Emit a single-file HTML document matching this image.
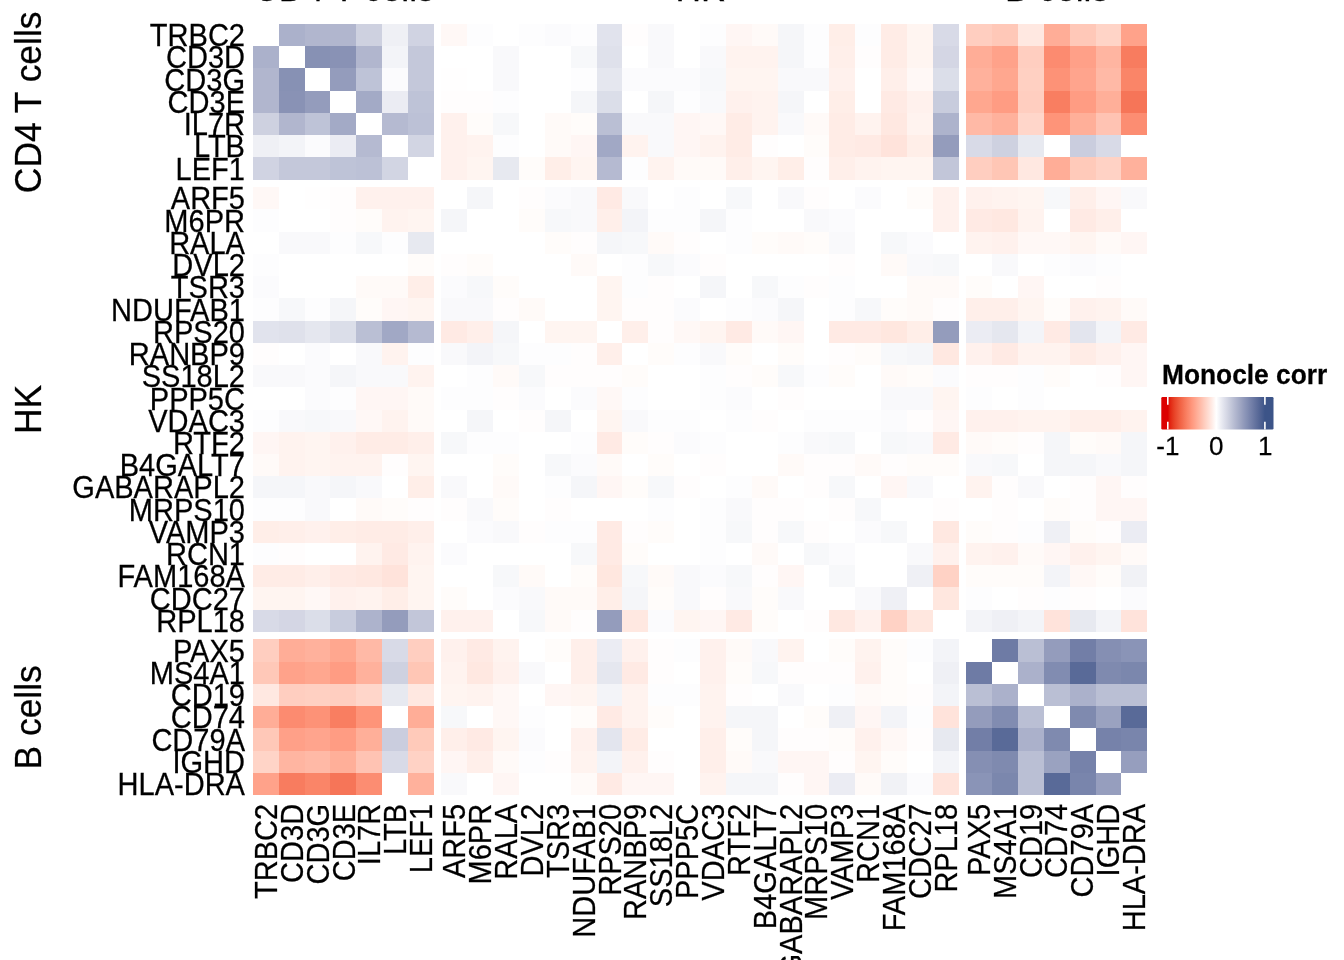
<!DOCTYPE html>
<html><head><meta charset="utf-8"><title>Monocle corr heatmap</title>
<style>
html,body{margin:0;padding:0;background:#fff;}
body{width:1344px;height:960px;overflow:hidden;position:relative;font-family:"Liberation Sans",sans-serif;color:#000;}
#hm{position:absolute;left:0;top:0;width:1344px;height:960px;}
.c{position:absolute;}
.t{position:absolute;line-height:1;white-space:nowrap;-webkit-text-stroke:0.25px #000;}
.yl{font-size:29.33px;width:300px;text-align:right;transform-origin:100% 84.65%;transform:scale(0.9900,1.0750);}
.xl{font-size:29.33px;width:300px;text-align:right;transform-origin:100% 84.65%;transform:rotate(-90deg) scale(0.9900,1.0750);}
.sl{font-size:34.67px;width:400px;text-align:center;transform-origin:50% 84.65%;transform:rotate(-90deg) scale(1.0210,1.0500);}
.st{font-size:34.67px;width:400px;text-align:center;transform-origin:50% 84.65%;transform:scale(1.0210,1.0500);}
#lt{font-size:26.20px;font-weight:bold;transform-origin:0 84.65%;transform:scale(1.0050,1.0800);}
.ll{font-size:26.00px;width:60px;text-align:center;transform-origin:50% 84.65%;transform:scale(1.0000,1.0100);}
#bar{position:absolute;left:1155px;top:390px;}
</style></head><body>
<div id="hm"><div class="c" style="left:279px;top:24px;width:26px;height:22px;background:#abb1cb"></div><div class="c" style="left:305px;top:24px;width:25px;height:22px;background:#b1b6ce"></div><div class="c" style="left:330px;top:24px;width:26px;height:22px;background:#b1b6ce"></div><div class="c" style="left:356px;top:24px;width:26px;height:22px;background:#ced1e0"></div><div class="c" style="left:382px;top:24px;width:26px;height:22px;background:#eff0f5"></div><div class="c" style="left:408px;top:24px;width:26px;height:22px;background:#d0d3e2"></div><div class="c" style="left:441px;top:24px;width:26px;height:22px;background:#fff8f6"></div><div class="c" style="left:467px;top:24px;width:26px;height:22px;background:#fdfdfe"></div><div class="c" style="left:519px;top:24px;width:26px;height:22px;background:#fdfdfe"></div><div class="c" style="left:545px;top:24px;width:26px;height:22px;background:#fbfbfd"></div><div class="c" style="left:571px;top:24px;width:26px;height:22px;background:#fdfdfe"></div><div class="c" style="left:597px;top:24px;width:25px;height:22px;background:#e1e3ed"></div><div class="c" style="left:622px;top:24px;width:26px;height:22px;background:#fffdfd"></div><div class="c" style="left:648px;top:24px;width:26px;height:22px;background:#f9f9fb"></div><div class="c" style="left:700px;top:24px;width:26px;height:22px;background:#fdfdfe"></div><div class="c" style="left:726px;top:24px;width:26px;height:22px;background:#fff6f4"></div><div class="c" style="left:752px;top:24px;width:26px;height:22px;background:#fffaf8"></div><div class="c" style="left:778px;top:24px;width:26px;height:22px;background:#f5f6f9"></div><div class="c" style="left:804px;top:24px;width:25px;height:22px;background:#fdfdfe"></div><div class="c" style="left:829px;top:24px;width:26px;height:22px;background:#ffeee8"></div><div class="c" style="left:855px;top:24px;width:26px;height:22px;background:#fdfdfe"></div><div class="c" style="left:881px;top:24px;width:26px;height:22px;background:#ffece6"></div><div class="c" style="left:907px;top:24px;width:26px;height:22px;background:#fff5f1"></div><div class="c" style="left:933px;top:24px;width:26px;height:22px;background:#d8dae7"></div><div class="c" style="left:966px;top:24px;width:26px;height:22px;background:#ffcec0"></div><div class="c" style="left:992px;top:24px;width:26px;height:22px;background:#ffc8b8"></div><div class="c" style="left:1018px;top:24px;width:26px;height:22px;background:#ffe8e1"></div><div class="c" style="left:1044px;top:24px;width:26px;height:22px;background:#ffad97"></div><div class="c" style="left:1070px;top:24px;width:26px;height:22px;background:#ffc8b8"></div><div class="c" style="left:1096px;top:24px;width:25px;height:22px;background:#ffd4c7"></div><div class="c" style="left:1121px;top:24px;width:26px;height:22px;background:#ffa28a"></div><div class="c" style="left:253px;top:46px;width:26px;height:22px;background:#abb1cb"></div><div class="c" style="left:305px;top:46px;width:25px;height:22px;background:#8791b4"></div><div class="c" style="left:330px;top:46px;width:26px;height:22px;background:#8992b5"></div><div class="c" style="left:356px;top:46px;width:26px;height:22px;background:#b1b6ce"></div><div class="c" style="left:382px;top:46px;width:26px;height:22px;background:#f3f4f8"></div><div class="c" style="left:408px;top:46px;width:26px;height:22px;background:#c4c8da"></div><div class="c" style="left:493px;top:46px;width:26px;height:22px;background:#f9f9fb"></div><div class="c" style="left:571px;top:46px;width:26px;height:22px;background:#f7f8fa"></div><div class="c" style="left:597px;top:46px;width:25px;height:22px;background:#dfe1eb"></div><div class="c" style="left:648px;top:46px;width:26px;height:22px;background:#f9f9fb"></div><div class="c" style="left:700px;top:46px;width:26px;height:22px;background:#f9f9fb"></div><div class="c" style="left:726px;top:46px;width:26px;height:22px;background:#fff3ef"></div><div class="c" style="left:752px;top:46px;width:26px;height:22px;background:#fff3ef"></div><div class="c" style="left:778px;top:46px;width:26px;height:22px;background:#f5f6f9"></div><div class="c" style="left:804px;top:46px;width:25px;height:22px;background:#fdfdfe"></div><div class="c" style="left:829px;top:46px;width:26px;height:22px;background:#ffefea"></div><div class="c" style="left:855px;top:46px;width:26px;height:22px;background:#fffdfd"></div><div class="c" style="left:881px;top:46px;width:26px;height:22px;background:#ffece6"></div><div class="c" style="left:907px;top:46px;width:26px;height:22px;background:#fff5f1"></div><div class="c" style="left:933px;top:46px;width:26px;height:22px;background:#d4d6e4"></div><div class="c" style="left:966px;top:46px;width:26px;height:22px;background:#ffad97"></div><div class="c" style="left:992px;top:46px;width:26px;height:22px;background:#ffa28a"></div><div class="c" style="left:1018px;top:46px;width:26px;height:22px;background:#ffcec0"></div><div class="c" style="left:1044px;top:46px;width:26px;height:22px;background:#fc8b70"></div><div class="c" style="left:1070px;top:46px;width:26px;height:22px;background:#ffa088"></div><div class="c" style="left:1096px;top:46px;width:25px;height:22px;background:#ffb5a1"></div><div class="c" style="left:1121px;top:46px;width:26px;height:22px;background:#f87c5f"></div><div class="c" style="left:253px;top:68px;width:26px;height:23px;background:#b1b6ce"></div><div class="c" style="left:279px;top:68px;width:26px;height:23px;background:#8791b4"></div><div class="c" style="left:330px;top:68px;width:26px;height:23px;background:#949cbc"></div><div class="c" style="left:356px;top:68px;width:26px;height:23px;background:#bec3d7"></div><div class="c" style="left:382px;top:68px;width:26px;height:23px;background:#fbfbfd"></div><div class="c" style="left:408px;top:68px;width:26px;height:23px;background:#c4c8da"></div><div class="c" style="left:441px;top:68px;width:26px;height:23px;background:#fffefe"></div><div class="c" style="left:493px;top:68px;width:26px;height:23px;background:#f9f9fb"></div><div class="c" style="left:571px;top:68px;width:26px;height:23px;background:#fdfdfe"></div><div class="c" style="left:597px;top:68px;width:25px;height:23px;background:#e5e7ef"></div><div class="c" style="left:622px;top:68px;width:26px;height:23px;background:#fbfbfd"></div><div class="c" style="left:648px;top:68px;width:26px;height:23px;background:#fbfbfd"></div><div class="c" style="left:674px;top:68px;width:26px;height:23px;background:#fbfbfd"></div><div class="c" style="left:700px;top:68px;width:26px;height:23px;background:#f7f8fa"></div><div class="c" style="left:726px;top:68px;width:26px;height:23px;background:#fff5f1"></div><div class="c" style="left:752px;top:68px;width:26px;height:23px;background:#fff5f1"></div><div class="c" style="left:778px;top:68px;width:26px;height:23px;background:#f9f9fb"></div><div class="c" style="left:804px;top:68px;width:25px;height:23px;background:#f9f9fb"></div><div class="c" style="left:829px;top:68px;width:26px;height:23px;background:#fff1ed"></div><div class="c" style="left:881px;top:68px;width:26px;height:23px;background:#ffefea"></div><div class="c" style="left:907px;top:68px;width:26px;height:23px;background:#fff8f6"></div><div class="c" style="left:933px;top:68px;width:26px;height:23px;background:#dbdee9"></div><div class="c" style="left:966px;top:68px;width:26px;height:23px;background:#ffb19c"></div><div class="c" style="left:992px;top:68px;width:26px;height:23px;background:#ffa78f"></div><div class="c" style="left:1018px;top:68px;width:26px;height:23px;background:#ffd0c2"></div><div class="c" style="left:1044px;top:68px;width:26px;height:23px;background:#fd9277"></div><div class="c" style="left:1070px;top:68px;width:26px;height:23px;background:#ffa48d"></div><div class="c" style="left:1096px;top:68px;width:25px;height:23px;background:#ffb9a6"></div><div class="c" style="left:1121px;top:68px;width:26px;height:23px;background:#fa8568"></div><div class="c" style="left:253px;top:91px;width:26px;height:22px;background:#b1b6ce"></div><div class="c" style="left:279px;top:91px;width:26px;height:22px;background:#8992b5"></div><div class="c" style="left:305px;top:91px;width:25px;height:22px;background:#949cbc"></div><div class="c" style="left:356px;top:91px;width:26px;height:22px;background:#a3aac6"></div><div class="c" style="left:382px;top:91px;width:26px;height:22px;background:#ebecf3"></div><div class="c" style="left:408px;top:91px;width:26px;height:22px;background:#bec3d7"></div><div class="c" style="left:441px;top:91px;width:26px;height:22px;background:#fffdfd"></div><div class="c" style="left:467px;top:91px;width:26px;height:22px;background:#fffdfd"></div><div class="c" style="left:493px;top:91px;width:26px;height:22px;background:#fdfdfe"></div><div class="c" style="left:571px;top:91px;width:26px;height:22px;background:#f5f6f9"></div><div class="c" style="left:597px;top:91px;width:25px;height:22px;background:#dbdee9"></div><div class="c" style="left:648px;top:91px;width:26px;height:22px;background:#f5f6f9"></div><div class="c" style="left:674px;top:91px;width:26px;height:22px;background:#fdfdfe"></div><div class="c" style="left:700px;top:91px;width:26px;height:22px;background:#f9f9fb"></div><div class="c" style="left:726px;top:91px;width:26px;height:22px;background:#fff1ed"></div><div class="c" style="left:752px;top:91px;width:26px;height:22px;background:#fff3ef"></div><div class="c" style="left:778px;top:91px;width:26px;height:22px;background:#f5f6f9"></div><div class="c" style="left:829px;top:91px;width:26px;height:22px;background:#ffeee8"></div><div class="c" style="left:881px;top:91px;width:26px;height:22px;background:#ffeae4"></div><div class="c" style="left:907px;top:91px;width:26px;height:22px;background:#fff1ed"></div><div class="c" style="left:933px;top:91px;width:26px;height:22px;background:#c8ccdd"></div><div class="c" style="left:966px;top:91px;width:26px;height:22px;background:#ffa78f"></div><div class="c" style="left:992px;top:91px;width:26px;height:22px;background:#ff9c83"></div><div class="c" style="left:1018px;top:91px;width:26px;height:22px;background:#ffcec0"></div><div class="c" style="left:1044px;top:91px;width:26px;height:22px;background:#f97e61"></div><div class="c" style="left:1070px;top:91px;width:26px;height:22px;background:#ff9c83"></div><div class="c" style="left:1096px;top:91px;width:25px;height:22px;background:#ffaf99"></div><div class="c" style="left:1121px;top:91px;width:26px;height:22px;background:#f67558"></div><div class="c" style="left:253px;top:113px;width:26px;height:22px;background:#ced1e0"></div><div class="c" style="left:279px;top:113px;width:26px;height:22px;background:#b1b6ce"></div><div class="c" style="left:305px;top:113px;width:25px;height:22px;background:#bec3d7"></div><div class="c" style="left:330px;top:113px;width:26px;height:22px;background:#a3aac6"></div><div class="c" style="left:382px;top:113px;width:26px;height:22px;background:#b5bad1"></div><div class="c" style="left:408px;top:113px;width:26px;height:22px;background:#bcc1d6"></div><div class="c" style="left:441px;top:113px;width:26px;height:22px;background:#fff1ed"></div><div class="c" style="left:467px;top:113px;width:26px;height:22px;background:#fffcfa"></div><div class="c" style="left:493px;top:113px;width:26px;height:22px;background:#f7f8fa"></div><div class="c" style="left:545px;top:113px;width:26px;height:22px;background:#fffaf8"></div><div class="c" style="left:571px;top:113px;width:26px;height:22px;background:#fffcfa"></div><div class="c" style="left:597px;top:113px;width:25px;height:22px;background:#babfd4"></div><div class="c" style="left:622px;top:113px;width:26px;height:22px;background:#f9f9fb"></div><div class="c" style="left:648px;top:113px;width:26px;height:22px;background:#f9f9fb"></div><div class="c" style="left:674px;top:113px;width:26px;height:22px;background:#fff6f4"></div><div class="c" style="left:700px;top:113px;width:26px;height:22px;background:#fff8f6"></div><div class="c" style="left:726px;top:113px;width:26px;height:22px;background:#ffece6"></div><div class="c" style="left:752px;top:113px;width:26px;height:22px;background:#fff3ef"></div><div class="c" style="left:778px;top:113px;width:26px;height:22px;background:#f9f9fb"></div><div class="c" style="left:804px;top:113px;width:25px;height:22px;background:#fffaf8"></div><div class="c" style="left:829px;top:113px;width:26px;height:22px;background:#ffece6"></div><div class="c" style="left:855px;top:113px;width:26px;height:22px;background:#fff3ef"></div><div class="c" style="left:881px;top:113px;width:26px;height:22px;background:#ffe8e1"></div><div class="c" style="left:907px;top:113px;width:26px;height:22px;background:#fff3ef"></div><div class="c" style="left:933px;top:113px;width:26px;height:22px;background:#adb3cc"></div><div class="c" style="left:966px;top:113px;width:26px;height:22px;background:#ffb9a6"></div><div class="c" style="left:992px;top:113px;width:26px;height:22px;background:#ffb19c"></div><div class="c" style="left:1018px;top:113px;width:26px;height:22px;background:#ffd6ca"></div><div class="c" style="left:1044px;top:113px;width:26px;height:22px;background:#fe9479"></div><div class="c" style="left:1070px;top:113px;width:26px;height:22px;background:#ffaf99"></div><div class="c" style="left:1096px;top:113px;width:25px;height:22px;background:#ffc3b3"></div><div class="c" style="left:1121px;top:113px;width:26px;height:22px;background:#fc8d72"></div><div class="c" style="left:253px;top:135px;width:26px;height:22px;background:#eff0f5"></div><div class="c" style="left:279px;top:135px;width:26px;height:22px;background:#f3f4f8"></div><div class="c" style="left:305px;top:135px;width:25px;height:22px;background:#fbfbfd"></div><div class="c" style="left:330px;top:135px;width:26px;height:22px;background:#ebecf3"></div><div class="c" style="left:356px;top:135px;width:26px;height:22px;background:#b5bad1"></div><div class="c" style="left:408px;top:135px;width:26px;height:22px;background:#d2d5e3"></div><div class="c" style="left:441px;top:135px;width:26px;height:22px;background:#fff1ed"></div><div class="c" style="left:467px;top:135px;width:26px;height:22px;background:#fff3ef"></div><div class="c" style="left:493px;top:135px;width:26px;height:22px;background:#fdfdfe"></div><div class="c" style="left:545px;top:135px;width:26px;height:22px;background:#fffaf8"></div><div class="c" style="left:571px;top:135px;width:26px;height:22px;background:#fff6f4"></div><div class="c" style="left:597px;top:135px;width:25px;height:22px;background:#a1a8c5"></div><div class="c" style="left:622px;top:135px;width:26px;height:22px;background:#fff3ef"></div><div class="c" style="left:648px;top:135px;width:26px;height:22px;background:#f9f9fb"></div><div class="c" style="left:674px;top:135px;width:26px;height:22px;background:#fff6f4"></div><div class="c" style="left:700px;top:135px;width:26px;height:22px;background:#fff3ef"></div><div class="c" style="left:726px;top:135px;width:26px;height:22px;background:#ffece6"></div><div class="c" style="left:752px;top:135px;width:26px;height:22px;background:#fffdfd"></div><div class="c" style="left:804px;top:135px;width:25px;height:22px;background:#fffcfa"></div><div class="c" style="left:829px;top:135px;width:26px;height:22px;background:#ffece6"></div><div class="c" style="left:855px;top:135px;width:26px;height:22px;background:#ffeae4"></div><div class="c" style="left:881px;top:135px;width:26px;height:22px;background:#ffe3db"></div><div class="c" style="left:907px;top:135px;width:26px;height:22px;background:#ffeee8"></div><div class="c" style="left:933px;top:135px;width:26px;height:22px;background:#949cbc"></div><div class="c" style="left:966px;top:135px;width:26px;height:22px;background:#d8dae7"></div><div class="c" style="left:992px;top:135px;width:26px;height:22px;background:#ced1e0"></div><div class="c" style="left:1018px;top:135px;width:26px;height:22px;background:#e7e9f0"></div><div class="c" style="left:1070px;top:135px;width:26px;height:22px;background:#cacdde"></div><div class="c" style="left:1096px;top:135px;width:25px;height:22px;background:#d8dae7"></div><div class="c" style="left:253px;top:157px;width:26px;height:23px;background:#d0d3e2"></div><div class="c" style="left:279px;top:157px;width:26px;height:23px;background:#c4c8da"></div><div class="c" style="left:305px;top:157px;width:25px;height:23px;background:#c4c8da"></div><div class="c" style="left:330px;top:157px;width:26px;height:23px;background:#bec3d7"></div><div class="c" style="left:356px;top:157px;width:26px;height:23px;background:#bcc1d6"></div><div class="c" style="left:382px;top:157px;width:26px;height:23px;background:#d2d5e3"></div><div class="c" style="left:441px;top:157px;width:26px;height:23px;background:#fff1ed"></div><div class="c" style="left:467px;top:157px;width:26px;height:23px;background:#fff5f1"></div><div class="c" style="left:493px;top:157px;width:26px;height:23px;background:#e7e9f0"></div><div class="c" style="left:519px;top:157px;width:26px;height:23px;background:#fffcfa"></div><div class="c" style="left:545px;top:157px;width:26px;height:23px;background:#ffeee8"></div><div class="c" style="left:571px;top:157px;width:26px;height:23px;background:#fff5f1"></div><div class="c" style="left:597px;top:157px;width:25px;height:23px;background:#b5bad1"></div><div class="c" style="left:622px;top:157px;width:26px;height:23px;background:#fdfdfe"></div><div class="c" style="left:648px;top:157px;width:26px;height:23px;background:#fff3ef"></div><div class="c" style="left:674px;top:157px;width:26px;height:23px;background:#fffaf8"></div><div class="c" style="left:700px;top:157px;width:26px;height:23px;background:#fffaf8"></div><div class="c" style="left:726px;top:157px;width:26px;height:23px;background:#ffefea"></div><div class="c" style="left:752px;top:157px;width:26px;height:23px;background:#fff5f1"></div><div class="c" style="left:778px;top:157px;width:26px;height:23px;background:#ffeee8"></div><div class="c" style="left:804px;top:157px;width:25px;height:23px;background:#fffdfd"></div><div class="c" style="left:829px;top:157px;width:26px;height:23px;background:#ffefea"></div><div class="c" style="left:855px;top:157px;width:26px;height:23px;background:#fff3ef"></div><div class="c" style="left:881px;top:157px;width:26px;height:23px;background:#fff5f1"></div><div class="c" style="left:907px;top:157px;width:26px;height:23px;background:#fff5f1"></div><div class="c" style="left:933px;top:157px;width:26px;height:23px;background:#c2c6d9"></div><div class="c" style="left:966px;top:157px;width:26px;height:23px;background:#ffcec0"></div><div class="c" style="left:992px;top:157px;width:26px;height:23px;background:#ffc6b5"></div><div class="c" style="left:1018px;top:157px;width:26px;height:23px;background:#ffe8e1"></div><div class="c" style="left:1044px;top:157px;width:26px;height:23px;background:#ffad97"></div><div class="c" style="left:1070px;top:157px;width:26px;height:23px;background:#ffcaba"></div><div class="c" style="left:1096px;top:157px;width:25px;height:23px;background:#ffd2c5"></div><div class="c" style="left:1121px;top:157px;width:26px;height:23px;background:#ffb19c"></div><div class="c" style="left:253px;top:187px;width:26px;height:22px;background:#fff8f6"></div><div class="c" style="left:305px;top:187px;width:25px;height:22px;background:#fffefe"></div><div class="c" style="left:330px;top:187px;width:26px;height:22px;background:#fffdfd"></div><div class="c" style="left:356px;top:187px;width:26px;height:22px;background:#fff1ed"></div><div class="c" style="left:382px;top:187px;width:26px;height:22px;background:#fff1ed"></div><div class="c" style="left:408px;top:187px;width:26px;height:22px;background:#fff1ed"></div><div class="c" style="left:467px;top:187px;width:26px;height:22px;background:#f5f6f9"></div><div class="c" style="left:519px;top:187px;width:26px;height:22px;background:#fffdfd"></div><div class="c" style="left:545px;top:187px;width:26px;height:22px;background:#fbfbfd"></div><div class="c" style="left:571px;top:187px;width:26px;height:22px;background:#f9f9fb"></div><div class="c" style="left:597px;top:187px;width:25px;height:22px;background:#ffeae4"></div><div class="c" style="left:622px;top:187px;width:26px;height:22px;background:#f9f9fb"></div><div class="c" style="left:674px;top:187px;width:26px;height:22px;background:#fdfdfe"></div><div class="c" style="left:726px;top:187px;width:26px;height:22px;background:#f7f8fa"></div><div class="c" style="left:778px;top:187px;width:26px;height:22px;background:#f9f9fb"></div><div class="c" style="left:804px;top:187px;width:25px;height:22px;background:#fffdfd"></div><div class="c" style="left:855px;top:187px;width:26px;height:22px;background:#fbfbfd"></div><div class="c" style="left:907px;top:187px;width:26px;height:22px;background:#fffcfa"></div><div class="c" style="left:933px;top:187px;width:26px;height:22px;background:#fff1ed"></div><div class="c" style="left:966px;top:187px;width:26px;height:22px;background:#fff1ed"></div><div class="c" style="left:992px;top:187px;width:26px;height:22px;background:#fff3ef"></div><div class="c" style="left:1018px;top:187px;width:26px;height:22px;background:#fff5f1"></div><div class="c" style="left:1044px;top:187px;width:26px;height:22px;background:#f7f8fa"></div><div class="c" style="left:1070px;top:187px;width:26px;height:22px;background:#ffefea"></div><div class="c" style="left:1096px;top:187px;width:25px;height:22px;background:#fff6f4"></div><div class="c" style="left:1121px;top:187px;width:26px;height:22px;background:#f9f9fb"></div><div class="c" style="left:253px;top:209px;width:26px;height:23px;background:#fdfdfe"></div><div class="c" style="left:330px;top:209px;width:26px;height:23px;background:#fffdfd"></div><div class="c" style="left:356px;top:209px;width:26px;height:23px;background:#fffcfa"></div><div class="c" style="left:382px;top:209px;width:26px;height:23px;background:#fff3ef"></div><div class="c" style="left:408px;top:209px;width:26px;height:23px;background:#fff5f1"></div><div class="c" style="left:441px;top:209px;width:26px;height:23px;background:#f5f6f9"></div><div class="c" style="left:519px;top:209px;width:26px;height:23px;background:#fffcfa"></div><div class="c" style="left:545px;top:209px;width:26px;height:23px;background:#f7f8fa"></div><div class="c" style="left:571px;top:209px;width:26px;height:23px;background:#f9f9fb"></div><div class="c" style="left:597px;top:209px;width:25px;height:23px;background:#ffefea"></div><div class="c" style="left:622px;top:209px;width:26px;height:23px;background:#f3f4f8"></div><div class="c" style="left:648px;top:209px;width:26px;height:23px;background:#fdfdfe"></div><div class="c" style="left:674px;top:209px;width:26px;height:23px;background:#fdfdfe"></div><div class="c" style="left:700px;top:209px;width:26px;height:23px;background:#f5f6f9"></div><div class="c" style="left:726px;top:209px;width:26px;height:23px;background:#fdfdfe"></div><div class="c" style="left:804px;top:209px;width:25px;height:23px;background:#f9f9fb"></div><div class="c" style="left:829px;top:209px;width:26px;height:23px;background:#fbfbfd"></div><div class="c" style="left:933px;top:209px;width:26px;height:23px;background:#fff1ed"></div><div class="c" style="left:966px;top:209px;width:26px;height:23px;background:#ffeae4"></div><div class="c" style="left:992px;top:209px;width:26px;height:23px;background:#ffe8e1"></div><div class="c" style="left:1018px;top:209px;width:26px;height:23px;background:#fff3ef"></div><div class="c" style="left:1070px;top:209px;width:26px;height:23px;background:#ffeae4"></div><div class="c" style="left:1096px;top:209px;width:25px;height:23px;background:#ffefea"></div><div class="c" style="left:279px;top:232px;width:26px;height:22px;background:#f9f9fb"></div><div class="c" style="left:305px;top:232px;width:25px;height:22px;background:#f9f9fb"></div><div class="c" style="left:330px;top:232px;width:26px;height:22px;background:#fdfdfe"></div><div class="c" style="left:356px;top:232px;width:26px;height:22px;background:#f7f8fa"></div><div class="c" style="left:382px;top:232px;width:26px;height:22px;background:#fdfdfe"></div><div class="c" style="left:408px;top:232px;width:26px;height:22px;background:#e7e9f0"></div><div class="c" style="left:545px;top:232px;width:26px;height:22px;background:#fffcfa"></div><div class="c" style="left:571px;top:232px;width:26px;height:22px;background:#fffdfd"></div><div class="c" style="left:597px;top:232px;width:25px;height:22px;background:#f5f6f9"></div><div class="c" style="left:622px;top:232px;width:26px;height:22px;background:#f7f8fa"></div><div class="c" style="left:648px;top:232px;width:26px;height:22px;background:#fffaf8"></div><div class="c" style="left:674px;top:232px;width:26px;height:22px;background:#fffdfd"></div><div class="c" style="left:726px;top:232px;width:26px;height:22px;background:#fdfdfe"></div><div class="c" style="left:752px;top:232px;width:26px;height:22px;background:#fffcfa"></div><div class="c" style="left:778px;top:232px;width:26px;height:22px;background:#fffaf8"></div><div class="c" style="left:804px;top:232px;width:25px;height:22px;background:#fffcfa"></div><div class="c" style="left:829px;top:232px;width:26px;height:22px;background:#f9f9fb"></div><div class="c" style="left:881px;top:232px;width:26px;height:22px;background:#f7f8fa"></div><div class="c" style="left:907px;top:232px;width:26px;height:22px;background:#fbfbfd"></div><div class="c" style="left:966px;top:232px;width:26px;height:22px;background:#fff3ef"></div><div class="c" style="left:992px;top:232px;width:26px;height:22px;background:#fff1ed"></div><div class="c" style="left:1018px;top:232px;width:26px;height:22px;background:#fff8f6"></div><div class="c" style="left:1044px;top:232px;width:26px;height:22px;background:#fff8f6"></div><div class="c" style="left:1070px;top:232px;width:26px;height:22px;background:#fff5f1"></div><div class="c" style="left:1096px;top:232px;width:25px;height:22px;background:#fffaf8"></div><div class="c" style="left:1121px;top:232px;width:26px;height:22px;background:#fff6f4"></div><div class="c" style="left:253px;top:254px;width:26px;height:22px;background:#fdfdfe"></div><div class="c" style="left:408px;top:254px;width:26px;height:22px;background:#fffcfa"></div><div class="c" style="left:441px;top:254px;width:26px;height:22px;background:#fffdfd"></div><div class="c" style="left:467px;top:254px;width:26px;height:22px;background:#fffcfa"></div><div class="c" style="left:571px;top:254px;width:26px;height:22px;background:#fffaf8"></div><div class="c" style="left:622px;top:254px;width:26px;height:22px;background:#fdfdfe"></div><div class="c" style="left:648px;top:254px;width:26px;height:22px;background:#f7f8fa"></div><div class="c" style="left:674px;top:254px;width:26px;height:22px;background:#fbfbfd"></div><div class="c" style="left:700px;top:254px;width:26px;height:22px;background:#fffdfd"></div><div class="c" style="left:829px;top:254px;width:26px;height:22px;background:#fffdfd"></div><div class="c" style="left:881px;top:254px;width:26px;height:22px;background:#fffaf8"></div><div class="c" style="left:907px;top:254px;width:26px;height:22px;background:#f9f9fb"></div><div class="c" style="left:933px;top:254px;width:26px;height:22px;background:#f7f8fa"></div><div class="c" style="left:992px;top:254px;width:26px;height:22px;background:#f9f9fb"></div><div class="c" style="left:1044px;top:254px;width:26px;height:22px;background:#fdfdfe"></div><div class="c" style="left:1070px;top:254px;width:26px;height:22px;background:#fbfbfd"></div><div class="c" style="left:1096px;top:254px;width:25px;height:22px;background:#fdfdfe"></div><div class="c" style="left:253px;top:276px;width:26px;height:22px;background:#fbfbfd"></div><div class="c" style="left:356px;top:276px;width:26px;height:22px;background:#fffaf8"></div><div class="c" style="left:382px;top:276px;width:26px;height:22px;background:#fffaf8"></div><div class="c" style="left:408px;top:276px;width:26px;height:22px;background:#ffeee8"></div><div class="c" style="left:441px;top:276px;width:26px;height:22px;background:#fbfbfd"></div><div class="c" style="left:467px;top:276px;width:26px;height:22px;background:#f7f8fa"></div><div class="c" style="left:493px;top:276px;width:26px;height:22px;background:#fffcfa"></div><div class="c" style="left:597px;top:276px;width:25px;height:22px;background:#fff5f1"></div><div class="c" style="left:622px;top:276px;width:26px;height:22px;background:#fdfdfe"></div><div class="c" style="left:648px;top:276px;width:26px;height:22px;background:#fffdfd"></div><div class="c" style="left:700px;top:276px;width:26px;height:22px;background:#f5f6f9"></div><div class="c" style="left:752px;top:276px;width:26px;height:22px;background:#f7f8fa"></div><div class="c" style="left:778px;top:276px;width:26px;height:22px;background:#fdfdfe"></div><div class="c" style="left:804px;top:276px;width:25px;height:22px;background:#fffdfd"></div><div class="c" style="left:829px;top:276px;width:26px;height:22px;background:#fdfdfe"></div><div class="c" style="left:907px;top:276px;width:26px;height:22px;background:#fffaf8"></div><div class="c" style="left:933px;top:276px;width:26px;height:22px;background:#fffaf8"></div><div class="c" style="left:966px;top:276px;width:26px;height:22px;background:#fffcfa"></div><div class="c" style="left:1018px;top:276px;width:26px;height:22px;background:#fff6f4"></div><div class="c" style="left:1096px;top:276px;width:25px;height:22px;background:#fffdfd"></div><div class="c" style="left:253px;top:298px;width:26px;height:23px;background:#fdfdfe"></div><div class="c" style="left:279px;top:298px;width:26px;height:23px;background:#f7f8fa"></div><div class="c" style="left:305px;top:298px;width:25px;height:23px;background:#fdfdfe"></div><div class="c" style="left:330px;top:298px;width:26px;height:23px;background:#f5f6f9"></div><div class="c" style="left:356px;top:298px;width:26px;height:23px;background:#fffcfa"></div><div class="c" style="left:382px;top:298px;width:26px;height:23px;background:#fff6f4"></div><div class="c" style="left:408px;top:298px;width:26px;height:23px;background:#fff5f1"></div><div class="c" style="left:441px;top:298px;width:26px;height:23px;background:#f9f9fb"></div><div class="c" style="left:467px;top:298px;width:26px;height:23px;background:#f9f9fb"></div><div class="c" style="left:493px;top:298px;width:26px;height:23px;background:#fffdfd"></div><div class="c" style="left:519px;top:298px;width:26px;height:23px;background:#fffaf8"></div><div class="c" style="left:597px;top:298px;width:25px;height:23px;background:#fff5f1"></div><div class="c" style="left:622px;top:298px;width:26px;height:23px;background:#fffdfd"></div><div class="c" style="left:648px;top:298px;width:26px;height:23px;background:#fffdfd"></div><div class="c" style="left:674px;top:298px;width:26px;height:23px;background:#fbfbfd"></div><div class="c" style="left:726px;top:298px;width:26px;height:23px;background:#fdfdfe"></div><div class="c" style="left:752px;top:298px;width:26px;height:23px;background:#fbfbfd"></div><div class="c" style="left:778px;top:298px;width:26px;height:23px;background:#f5f6f9"></div><div class="c" style="left:829px;top:298px;width:26px;height:23px;background:#fdfdfe"></div><div class="c" style="left:855px;top:298px;width:26px;height:23px;background:#f7f8fa"></div><div class="c" style="left:881px;top:298px;width:26px;height:23px;background:#fffcfa"></div><div class="c" style="left:907px;top:298px;width:26px;height:23px;background:#fffaf8"></div><div class="c" style="left:933px;top:298px;width:26px;height:23px;background:#fffdfd"></div><div class="c" style="left:966px;top:298px;width:26px;height:23px;background:#ffefea"></div><div class="c" style="left:992px;top:298px;width:26px;height:23px;background:#ffefea"></div><div class="c" style="left:1018px;top:298px;width:26px;height:23px;background:#fff5f1"></div><div class="c" style="left:1044px;top:298px;width:26px;height:23px;background:#fffcfa"></div><div class="c" style="left:1070px;top:298px;width:26px;height:23px;background:#fff1ed"></div><div class="c" style="left:1096px;top:298px;width:25px;height:23px;background:#fff3ef"></div><div class="c" style="left:1121px;top:298px;width:26px;height:23px;background:#fffaf8"></div><div class="c" style="left:253px;top:321px;width:26px;height:22px;background:#e1e3ed"></div><div class="c" style="left:279px;top:321px;width:26px;height:22px;background:#dfe1eb"></div><div class="c" style="left:305px;top:321px;width:25px;height:22px;background:#e5e7ef"></div><div class="c" style="left:330px;top:321px;width:26px;height:22px;background:#dbdee9"></div><div class="c" style="left:356px;top:321px;width:26px;height:22px;background:#babfd4"></div><div class="c" style="left:382px;top:321px;width:26px;height:22px;background:#a1a8c5"></div><div class="c" style="left:408px;top:321px;width:26px;height:22px;background:#b5bad1"></div><div class="c" style="left:441px;top:321px;width:26px;height:22px;background:#ffeae4"></div><div class="c" style="left:467px;top:321px;width:26px;height:22px;background:#ffefea"></div><div class="c" style="left:493px;top:321px;width:26px;height:22px;background:#f5f6f9"></div><div class="c" style="left:545px;top:321px;width:26px;height:22px;background:#fff5f1"></div><div class="c" style="left:571px;top:321px;width:26px;height:22px;background:#fff5f1"></div><div class="c" style="left:622px;top:321px;width:26px;height:22px;background:#ffefea"></div><div class="c" style="left:648px;top:321px;width:26px;height:22px;background:#fffdfd"></div><div class="c" style="left:674px;top:321px;width:26px;height:22px;background:#fff8f6"></div><div class="c" style="left:700px;top:321px;width:26px;height:22px;background:#fff5f1"></div><div class="c" style="left:726px;top:321px;width:26px;height:22px;background:#ffeae4"></div><div class="c" style="left:752px;top:321px;width:26px;height:22px;background:#fffaf8"></div><div class="c" style="left:778px;top:321px;width:26px;height:22px;background:#fff6f4"></div><div class="c" style="left:829px;top:321px;width:26px;height:22px;background:#ffeae4"></div><div class="c" style="left:855px;top:321px;width:26px;height:22px;background:#ffeae4"></div><div class="c" style="left:881px;top:321px;width:26px;height:22px;background:#ffe7df"></div><div class="c" style="left:907px;top:321px;width:26px;height:22px;background:#ffeee8"></div><div class="c" style="left:933px;top:321px;width:26px;height:22px;background:#949cbc"></div><div class="c" style="left:966px;top:321px;width:26px;height:22px;background:#ebecf3"></div><div class="c" style="left:992px;top:321px;width:26px;height:22px;background:#e5e7ef"></div><div class="c" style="left:1018px;top:321px;width:26px;height:22px;background:#f3f4f8"></div><div class="c" style="left:1044px;top:321px;width:26px;height:22px;background:#ffeae4"></div><div class="c" style="left:1070px;top:321px;width:26px;height:22px;background:#e3e5ee"></div><div class="c" style="left:1096px;top:321px;width:25px;height:22px;background:#f3f4f8"></div><div class="c" style="left:1121px;top:321px;width:26px;height:22px;background:#ffeae4"></div><div class="c" style="left:253px;top:343px;width:26px;height:22px;background:#fffdfd"></div><div class="c" style="left:305px;top:343px;width:25px;height:22px;background:#fbfbfd"></div><div class="c" style="left:356px;top:343px;width:26px;height:22px;background:#f9f9fb"></div><div class="c" style="left:382px;top:343px;width:26px;height:22px;background:#fff3ef"></div><div class="c" style="left:408px;top:343px;width:26px;height:22px;background:#fdfdfe"></div><div class="c" style="left:441px;top:343px;width:26px;height:22px;background:#f9f9fb"></div><div class="c" style="left:467px;top:343px;width:26px;height:22px;background:#f3f4f8"></div><div class="c" style="left:493px;top:343px;width:26px;height:22px;background:#f7f8fa"></div><div class="c" style="left:519px;top:343px;width:26px;height:22px;background:#fdfdfe"></div><div class="c" style="left:545px;top:343px;width:26px;height:22px;background:#fdfdfe"></div><div class="c" style="left:571px;top:343px;width:26px;height:22px;background:#fffdfd"></div><div class="c" style="left:597px;top:343px;width:25px;height:22px;background:#ffefea"></div><div class="c" style="left:648px;top:343px;width:26px;height:22px;background:#fffcfa"></div><div class="c" style="left:674px;top:343px;width:26px;height:22px;background:#fdfdfe"></div><div class="c" style="left:700px;top:343px;width:26px;height:22px;background:#f9f9fb"></div><div class="c" style="left:726px;top:343px;width:26px;height:22px;background:#fffcfa"></div><div class="c" style="left:778px;top:343px;width:26px;height:22px;background:#fffcfa"></div><div class="c" style="left:829px;top:343px;width:26px;height:22px;background:#fffdfd"></div><div class="c" style="left:855px;top:343px;width:26px;height:22px;background:#fffcfa"></div><div class="c" style="left:881px;top:343px;width:26px;height:22px;background:#f7f8fa"></div><div class="c" style="left:907px;top:343px;width:26px;height:22px;background:#f5f6f9"></div><div class="c" style="left:933px;top:343px;width:26px;height:22px;background:#ffe8e1"></div><div class="c" style="left:966px;top:343px;width:26px;height:22px;background:#fff1ed"></div><div class="c" style="left:992px;top:343px;width:26px;height:22px;background:#ffeae4"></div><div class="c" style="left:1018px;top:343px;width:26px;height:22px;background:#fff3ef"></div><div class="c" style="left:1044px;top:343px;width:26px;height:22px;background:#fff3ef"></div><div class="c" style="left:1070px;top:343px;width:26px;height:22px;background:#ffece6"></div><div class="c" style="left:1096px;top:343px;width:25px;height:22px;background:#fff1ed"></div><div class="c" style="left:1121px;top:343px;width:26px;height:22px;background:#fff6f4"></div><div class="c" style="left:253px;top:365px;width:26px;height:22px;background:#f9f9fb"></div><div class="c" style="left:279px;top:365px;width:26px;height:22px;background:#f9f9fb"></div><div class="c" style="left:305px;top:365px;width:25px;height:22px;background:#fbfbfd"></div><div class="c" style="left:330px;top:365px;width:26px;height:22px;background:#f5f6f9"></div><div class="c" style="left:356px;top:365px;width:26px;height:22px;background:#f9f9fb"></div><div class="c" style="left:382px;top:365px;width:26px;height:22px;background:#f9f9fb"></div><div class="c" style="left:408px;top:365px;width:26px;height:22px;background:#fff3ef"></div><div class="c" style="left:467px;top:365px;width:26px;height:22px;background:#fdfdfe"></div><div class="c" style="left:493px;top:365px;width:26px;height:22px;background:#fffaf8"></div><div class="c" style="left:519px;top:365px;width:26px;height:22px;background:#f7f8fa"></div><div class="c" style="left:545px;top:365px;width:26px;height:22px;background:#fffdfd"></div><div class="c" style="left:571px;top:365px;width:26px;height:22px;background:#fffdfd"></div><div class="c" style="left:597px;top:365px;width:25px;height:22px;background:#fffdfd"></div><div class="c" style="left:622px;top:365px;width:26px;height:22px;background:#fffcfa"></div><div class="c" style="left:700px;top:365px;width:26px;height:22px;background:#fdfdfe"></div><div class="c" style="left:726px;top:365px;width:26px;height:22px;background:#fffdfd"></div><div class="c" style="left:752px;top:365px;width:26px;height:22px;background:#fffcfa"></div><div class="c" style="left:778px;top:365px;width:26px;height:22px;background:#f7f8fa"></div><div class="c" style="left:804px;top:365px;width:25px;height:22px;background:#fdfdfe"></div><div class="c" style="left:829px;top:365px;width:26px;height:22px;background:#fffcfa"></div><div class="c" style="left:881px;top:365px;width:26px;height:22px;background:#fffaf8"></div><div class="c" style="left:907px;top:365px;width:26px;height:22px;background:#fffcfa"></div><div class="c" style="left:933px;top:365px;width:26px;height:22px;background:#fbfbfd"></div><div class="c" style="left:966px;top:365px;width:26px;height:22px;background:#fffdfd"></div><div class="c" style="left:992px;top:365px;width:26px;height:22px;background:#fffdfd"></div><div class="c" style="left:1018px;top:365px;width:26px;height:22px;background:#fdfdfe"></div><div class="c" style="left:1044px;top:365px;width:26px;height:22px;background:#fffcfa"></div><div class="c" style="left:1096px;top:365px;width:25px;height:22px;background:#fffdfd"></div><div class="c" style="left:1121px;top:365px;width:26px;height:22px;background:#fff6f4"></div><div class="c" style="left:305px;top:387px;width:25px;height:23px;background:#fbfbfd"></div><div class="c" style="left:330px;top:387px;width:26px;height:23px;background:#fdfdfe"></div><div class="c" style="left:356px;top:387px;width:26px;height:23px;background:#fff6f4"></div><div class="c" style="left:382px;top:387px;width:26px;height:23px;background:#fff6f4"></div><div class="c" style="left:408px;top:387px;width:26px;height:23px;background:#fffaf8"></div><div class="c" style="left:441px;top:387px;width:26px;height:23px;background:#fdfdfe"></div><div class="c" style="left:467px;top:387px;width:26px;height:23px;background:#fdfdfe"></div><div class="c" style="left:493px;top:387px;width:26px;height:23px;background:#fffdfd"></div><div class="c" style="left:519px;top:387px;width:26px;height:23px;background:#fbfbfd"></div><div class="c" style="left:571px;top:387px;width:26px;height:23px;background:#fbfbfd"></div><div class="c" style="left:597px;top:387px;width:25px;height:23px;background:#fff8f6"></div><div class="c" style="left:622px;top:387px;width:26px;height:23px;background:#fdfdfe"></div><div class="c" style="left:700px;top:387px;width:26px;height:23px;background:#fdfdfe"></div><div class="c" style="left:726px;top:387px;width:26px;height:23px;background:#fbfbfd"></div><div class="c" style="left:778px;top:387px;width:26px;height:23px;background:#fffdfd"></div><div class="c" style="left:881px;top:387px;width:26px;height:23px;background:#f9f9fb"></div><div class="c" style="left:907px;top:387px;width:26px;height:23px;background:#f9f9fb"></div><div class="c" style="left:933px;top:387px;width:26px;height:23px;background:#fff5f1"></div><div class="c" style="left:966px;top:387px;width:26px;height:23px;background:#fdfdfe"></div><div class="c" style="left:1018px;top:387px;width:26px;height:23px;background:#fdfdfe"></div><div class="c" style="left:253px;top:410px;width:26px;height:22px;background:#fdfdfe"></div><div class="c" style="left:279px;top:410px;width:26px;height:22px;background:#f9f9fb"></div><div class="c" style="left:305px;top:410px;width:25px;height:22px;background:#f7f8fa"></div><div class="c" style="left:330px;top:410px;width:26px;height:22px;background:#f9f9fb"></div><div class="c" style="left:356px;top:410px;width:26px;height:22px;background:#fff8f6"></div><div class="c" style="left:382px;top:410px;width:26px;height:22px;background:#fff3ef"></div><div class="c" style="left:408px;top:410px;width:26px;height:22px;background:#fffaf8"></div><div class="c" style="left:467px;top:410px;width:26px;height:22px;background:#f5f6f9"></div><div class="c" style="left:519px;top:410px;width:26px;height:22px;background:#fffdfd"></div><div class="c" style="left:545px;top:410px;width:26px;height:22px;background:#f5f6f9"></div><div class="c" style="left:597px;top:410px;width:25px;height:22px;background:#fff5f1"></div><div class="c" style="left:622px;top:410px;width:26px;height:22px;background:#f9f9fb"></div><div class="c" style="left:648px;top:410px;width:26px;height:22px;background:#fdfdfe"></div><div class="c" style="left:674px;top:410px;width:26px;height:22px;background:#fdfdfe"></div><div class="c" style="left:726px;top:410px;width:26px;height:22px;background:#fdfdfe"></div><div class="c" style="left:752px;top:410px;width:26px;height:22px;background:#fffdfd"></div><div class="c" style="left:804px;top:410px;width:25px;height:22px;background:#fdfdfe"></div><div class="c" style="left:829px;top:410px;width:26px;height:22px;background:#fdfdfe"></div><div class="c" style="left:855px;top:410px;width:26px;height:22px;background:#fdfdfe"></div><div class="c" style="left:881px;top:410px;width:26px;height:22px;background:#fbfbfd"></div><div class="c" style="left:907px;top:410px;width:26px;height:22px;background:#fffdfd"></div><div class="c" style="left:933px;top:410px;width:26px;height:22px;background:#fff6f4"></div><div class="c" style="left:966px;top:410px;width:26px;height:22px;background:#fff1ed"></div><div class="c" style="left:992px;top:410px;width:26px;height:22px;background:#fff1ed"></div><div class="c" style="left:1018px;top:410px;width:26px;height:22px;background:#fff3ef"></div><div class="c" style="left:1044px;top:410px;width:26px;height:22px;background:#fff3ef"></div><div class="c" style="left:1070px;top:410px;width:26px;height:22px;background:#ffefea"></div><div class="c" style="left:1096px;top:410px;width:25px;height:22px;background:#ffefea"></div><div class="c" style="left:1121px;top:410px;width:26px;height:22px;background:#fff3ef"></div><div class="c" style="left:253px;top:432px;width:26px;height:22px;background:#fff6f4"></div><div class="c" style="left:279px;top:432px;width:26px;height:22px;background:#fff3ef"></div><div class="c" style="left:305px;top:432px;width:25px;height:22px;background:#fff5f1"></div><div class="c" style="left:330px;top:432px;width:26px;height:22px;background:#fff1ed"></div><div class="c" style="left:356px;top:432px;width:26px;height:22px;background:#ffece6"></div><div class="c" style="left:382px;top:432px;width:26px;height:22px;background:#ffece6"></div><div class="c" style="left:408px;top:432px;width:26px;height:22px;background:#ffefea"></div><div class="c" style="left:441px;top:432px;width:26px;height:22px;background:#f7f8fa"></div><div class="c" style="left:467px;top:432px;width:26px;height:22px;background:#fdfdfe"></div><div class="c" style="left:493px;top:432px;width:26px;height:22px;background:#fdfdfe"></div><div class="c" style="left:571px;top:432px;width:26px;height:22px;background:#fdfdfe"></div><div class="c" style="left:597px;top:432px;width:25px;height:22px;background:#ffeae4"></div><div class="c" style="left:622px;top:432px;width:26px;height:22px;background:#fffcfa"></div><div class="c" style="left:648px;top:432px;width:26px;height:22px;background:#fffdfd"></div><div class="c" style="left:674px;top:432px;width:26px;height:22px;background:#fbfbfd"></div><div class="c" style="left:700px;top:432px;width:26px;height:22px;background:#fdfdfe"></div><div class="c" style="left:778px;top:432px;width:26px;height:22px;background:#fdfdfe"></div><div class="c" style="left:804px;top:432px;width:25px;height:22px;background:#f9f9fb"></div><div class="c" style="left:829px;top:432px;width:26px;height:22px;background:#f7f8fa"></div><div class="c" style="left:881px;top:432px;width:26px;height:22px;background:#f7f8fa"></div><div class="c" style="left:907px;top:432px;width:26px;height:22px;background:#f9f9fb"></div><div class="c" style="left:933px;top:432px;width:26px;height:22px;background:#ffeae4"></div><div class="c" style="left:966px;top:432px;width:26px;height:22px;background:#fffaf8"></div><div class="c" style="left:992px;top:432px;width:26px;height:22px;background:#fffcfa"></div><div class="c" style="left:1018px;top:432px;width:26px;height:22px;background:#fffdfd"></div><div class="c" style="left:1044px;top:432px;width:26px;height:22px;background:#f5f6f9"></div><div class="c" style="left:1070px;top:432px;width:26px;height:22px;background:#fffcfa"></div><div class="c" style="left:1096px;top:432px;width:25px;height:22px;background:#fffaf8"></div><div class="c" style="left:1121px;top:432px;width:26px;height:22px;background:#f5f6f9"></div><div class="c" style="left:253px;top:454px;width:26px;height:22px;background:#fffaf8"></div><div class="c" style="left:279px;top:454px;width:26px;height:22px;background:#fff3ef"></div><div class="c" style="left:305px;top:454px;width:25px;height:22px;background:#fff5f1"></div><div class="c" style="left:330px;top:454px;width:26px;height:22px;background:#fff3ef"></div><div class="c" style="left:356px;top:454px;width:26px;height:22px;background:#fff3ef"></div><div class="c" style="left:382px;top:454px;width:26px;height:22px;background:#fffdfd"></div><div class="c" style="left:408px;top:454px;width:26px;height:22px;background:#fff5f1"></div><div class="c" style="left:493px;top:454px;width:26px;height:22px;background:#fffcfa"></div><div class="c" style="left:545px;top:454px;width:26px;height:22px;background:#f7f8fa"></div><div class="c" style="left:571px;top:454px;width:26px;height:22px;background:#fbfbfd"></div><div class="c" style="left:597px;top:454px;width:25px;height:22px;background:#fffaf8"></div><div class="c" style="left:648px;top:454px;width:26px;height:22px;background:#fffcfa"></div><div class="c" style="left:700px;top:454px;width:26px;height:22px;background:#fffdfd"></div><div class="c" style="left:778px;top:454px;width:26px;height:22px;background:#fffaf8"></div><div class="c" style="left:804px;top:454px;width:25px;height:22px;background:#fffdfd"></div><div class="c" style="left:829px;top:454px;width:26px;height:22px;background:#fffdfd"></div><div class="c" style="left:855px;top:454px;width:26px;height:22px;background:#fffaf8"></div><div class="c" style="left:881px;top:454px;width:26px;height:22px;background:#fffdfd"></div><div class="c" style="left:907px;top:454px;width:26px;height:22px;background:#fffcfa"></div><div class="c" style="left:933px;top:454px;width:26px;height:22px;background:#fffcfa"></div><div class="c" style="left:966px;top:454px;width:26px;height:22px;background:#f9f9fb"></div><div class="c" style="left:992px;top:454px;width:26px;height:22px;background:#f7f8fa"></div><div class="c" style="left:1044px;top:454px;width:26px;height:22px;background:#f5f6f9"></div><div class="c" style="left:1070px;top:454px;width:26px;height:22px;background:#f5f6f9"></div><div class="c" style="left:1096px;top:454px;width:25px;height:22px;background:#f9f9fb"></div><div class="c" style="left:1121px;top:454px;width:26px;height:22px;background:#f5f6f9"></div><div class="c" style="left:253px;top:476px;width:26px;height:22px;background:#f5f6f9"></div><div class="c" style="left:279px;top:476px;width:26px;height:22px;background:#f5f6f9"></div><div class="c" style="left:305px;top:476px;width:25px;height:22px;background:#f9f9fb"></div><div class="c" style="left:330px;top:476px;width:26px;height:22px;background:#f5f6f9"></div><div class="c" style="left:356px;top:476px;width:26px;height:22px;background:#f9f9fb"></div><div class="c" style="left:408px;top:476px;width:26px;height:22px;background:#ffeee8"></div><div class="c" style="left:441px;top:476px;width:26px;height:22px;background:#f9f9fb"></div><div class="c" style="left:493px;top:476px;width:26px;height:22px;background:#fffaf8"></div><div class="c" style="left:545px;top:476px;width:26px;height:22px;background:#fdfdfe"></div><div class="c" style="left:571px;top:476px;width:26px;height:22px;background:#f5f6f9"></div><div class="c" style="left:597px;top:476px;width:25px;height:22px;background:#fff6f4"></div><div class="c" style="left:622px;top:476px;width:26px;height:22px;background:#fffcfa"></div><div class="c" style="left:648px;top:476px;width:26px;height:22px;background:#f7f8fa"></div><div class="c" style="left:674px;top:476px;width:26px;height:22px;background:#fffdfd"></div><div class="c" style="left:726px;top:476px;width:26px;height:22px;background:#fdfdfe"></div><div class="c" style="left:752px;top:476px;width:26px;height:22px;background:#fffaf8"></div><div class="c" style="left:804px;top:476px;width:25px;height:22px;background:#fffdfd"></div><div class="c" style="left:829px;top:476px;width:26px;height:22px;background:#f7f8fa"></div><div class="c" style="left:881px;top:476px;width:26px;height:22px;background:#fff6f4"></div><div class="c" style="left:907px;top:476px;width:26px;height:22px;background:#f9f9fb"></div><div class="c" style="left:966px;top:476px;width:26px;height:22px;background:#fff3ef"></div><div class="c" style="left:992px;top:476px;width:26px;height:22px;background:#fffdfd"></div><div class="c" style="left:1018px;top:476px;width:26px;height:22px;background:#f9f9fb"></div><div class="c" style="left:1070px;top:476px;width:26px;height:22px;background:#fffdfd"></div><div class="c" style="left:1096px;top:476px;width:25px;height:22px;background:#fff6f4"></div><div class="c" style="left:1121px;top:476px;width:26px;height:22px;background:#fffdfd"></div><div class="c" style="left:253px;top:498px;width:26px;height:23px;background:#fdfdfe"></div><div class="c" style="left:279px;top:498px;width:26px;height:23px;background:#fdfdfe"></div><div class="c" style="left:305px;top:498px;width:25px;height:23px;background:#f9f9fb"></div><div class="c" style="left:356px;top:498px;width:26px;height:23px;background:#fffaf8"></div><div class="c" style="left:382px;top:498px;width:26px;height:23px;background:#fffcfa"></div><div class="c" style="left:408px;top:498px;width:26px;height:23px;background:#fffdfd"></div><div class="c" style="left:441px;top:498px;width:26px;height:23px;background:#fffdfd"></div><div class="c" style="left:467px;top:498px;width:26px;height:23px;background:#f9f9fb"></div><div class="c" style="left:493px;top:498px;width:26px;height:23px;background:#fffcfa"></div><div class="c" style="left:545px;top:498px;width:26px;height:23px;background:#fffdfd"></div><div class="c" style="left:648px;top:498px;width:26px;height:23px;background:#fdfdfe"></div><div class="c" style="left:700px;top:498px;width:26px;height:23px;background:#fdfdfe"></div><div class="c" style="left:726px;top:498px;width:26px;height:23px;background:#f9f9fb"></div><div class="c" style="left:752px;top:498px;width:26px;height:23px;background:#fffdfd"></div><div class="c" style="left:778px;top:498px;width:26px;height:23px;background:#fffdfd"></div><div class="c" style="left:829px;top:498px;width:26px;height:23px;background:#fffdfd"></div><div class="c" style="left:855px;top:498px;width:26px;height:23px;background:#f7f8fa"></div><div class="c" style="left:933px;top:498px;width:26px;height:23px;background:#fffdfd"></div><div class="c" style="left:992px;top:498px;width:26px;height:23px;background:#fffdfd"></div><div class="c" style="left:1044px;top:498px;width:26px;height:23px;background:#fffcfa"></div><div class="c" style="left:1070px;top:498px;width:26px;height:23px;background:#fffdfd"></div><div class="c" style="left:1096px;top:498px;width:25px;height:23px;background:#fff6f4"></div><div class="c" style="left:1121px;top:498px;width:26px;height:23px;background:#fff6f4"></div><div class="c" style="left:253px;top:521px;width:26px;height:22px;background:#ffeee8"></div><div class="c" style="left:279px;top:521px;width:26px;height:22px;background:#ffefea"></div><div class="c" style="left:305px;top:521px;width:25px;height:22px;background:#fff1ed"></div><div class="c" style="left:330px;top:521px;width:26px;height:22px;background:#ffeee8"></div><div class="c" style="left:356px;top:521px;width:26px;height:22px;background:#ffece6"></div><div class="c" style="left:382px;top:521px;width:26px;height:22px;background:#ffece6"></div><div class="c" style="left:408px;top:521px;width:26px;height:22px;background:#ffefea"></div><div class="c" style="left:467px;top:521px;width:26px;height:22px;background:#fbfbfd"></div><div class="c" style="left:493px;top:521px;width:26px;height:22px;background:#f9f9fb"></div><div class="c" style="left:519px;top:521px;width:26px;height:22px;background:#fffdfd"></div><div class="c" style="left:545px;top:521px;width:26px;height:22px;background:#fdfdfe"></div><div class="c" style="left:571px;top:521px;width:26px;height:22px;background:#fdfdfe"></div><div class="c" style="left:597px;top:521px;width:25px;height:22px;background:#ffeae4"></div><div class="c" style="left:622px;top:521px;width:26px;height:22px;background:#fffdfd"></div><div class="c" style="left:648px;top:521px;width:26px;height:22px;background:#fffcfa"></div><div class="c" style="left:700px;top:521px;width:26px;height:22px;background:#fdfdfe"></div><div class="c" style="left:726px;top:521px;width:26px;height:22px;background:#f7f8fa"></div><div class="c" style="left:752px;top:521px;width:26px;height:22px;background:#fffdfd"></div><div class="c" style="left:778px;top:521px;width:26px;height:22px;background:#f7f8fa"></div><div class="c" style="left:804px;top:521px;width:25px;height:22px;background:#fffdfd"></div><div class="c" style="left:855px;top:521px;width:26px;height:22px;background:#fbfbfd"></div><div class="c" style="left:881px;top:521px;width:26px;height:22px;background:#f7f8fa"></div><div class="c" style="left:933px;top:521px;width:26px;height:22px;background:#ffe8e1"></div><div class="c" style="left:966px;top:521px;width:26px;height:22px;background:#fffcfa"></div><div class="c" style="left:992px;top:521px;width:26px;height:22px;background:#fffdfd"></div><div class="c" style="left:1018px;top:521px;width:26px;height:22px;background:#fdfdfe"></div><div class="c" style="left:1044px;top:521px;width:26px;height:22px;background:#eff0f5"></div><div class="c" style="left:1070px;top:521px;width:26px;height:22px;background:#fffcfa"></div><div class="c" style="left:1096px;top:521px;width:25px;height:22px;background:#fffdfd"></div><div class="c" style="left:1121px;top:521px;width:26px;height:22px;background:#ebecf3"></div><div class="c" style="left:253px;top:543px;width:26px;height:22px;background:#fdfdfe"></div><div class="c" style="left:279px;top:543px;width:26px;height:22px;background:#fffdfd"></div><div class="c" style="left:356px;top:543px;width:26px;height:22px;background:#fff3ef"></div><div class="c" style="left:382px;top:543px;width:26px;height:22px;background:#ffeae4"></div><div class="c" style="left:408px;top:543px;width:26px;height:22px;background:#fff3ef"></div><div class="c" style="left:441px;top:543px;width:26px;height:22px;background:#fbfbfd"></div><div class="c" style="left:571px;top:543px;width:26px;height:22px;background:#f7f8fa"></div><div class="c" style="left:597px;top:543px;width:25px;height:22px;background:#ffeae4"></div><div class="c" style="left:622px;top:543px;width:26px;height:22px;background:#fffcfa"></div><div class="c" style="left:700px;top:543px;width:26px;height:22px;background:#fdfdfe"></div><div class="c" style="left:752px;top:543px;width:26px;height:22px;background:#fffaf8"></div><div class="c" style="left:804px;top:543px;width:25px;height:22px;background:#f7f8fa"></div><div class="c" style="left:829px;top:543px;width:26px;height:22px;background:#fbfbfd"></div><div class="c" style="left:907px;top:543px;width:26px;height:22px;background:#f9f9fb"></div><div class="c" style="left:933px;top:543px;width:26px;height:22px;background:#fff1ed"></div><div class="c" style="left:966px;top:543px;width:26px;height:22px;background:#fff3ef"></div><div class="c" style="left:992px;top:543px;width:26px;height:22px;background:#fff1ed"></div><div class="c" style="left:1018px;top:543px;width:26px;height:22px;background:#fffaf8"></div><div class="c" style="left:1044px;top:543px;width:26px;height:22px;background:#fff6f4"></div><div class="c" style="left:1070px;top:543px;width:26px;height:22px;background:#fff1ed"></div><div class="c" style="left:1096px;top:543px;width:25px;height:22px;background:#fff5f1"></div><div class="c" style="left:1121px;top:543px;width:26px;height:22px;background:#fffaf8"></div><div class="c" style="left:253px;top:565px;width:26px;height:22px;background:#ffece6"></div><div class="c" style="left:279px;top:565px;width:26px;height:22px;background:#ffece6"></div><div class="c" style="left:305px;top:565px;width:25px;height:22px;background:#ffefea"></div><div class="c" style="left:330px;top:565px;width:26px;height:22px;background:#ffeae4"></div><div class="c" style="left:356px;top:565px;width:26px;height:22px;background:#ffe8e1"></div><div class="c" style="left:382px;top:565px;width:26px;height:22px;background:#ffe3db"></div><div class="c" style="left:408px;top:565px;width:26px;height:22px;background:#fff5f1"></div><div class="c" style="left:493px;top:565px;width:26px;height:22px;background:#f7f8fa"></div><div class="c" style="left:519px;top:565px;width:26px;height:22px;background:#fffaf8"></div><div class="c" style="left:571px;top:565px;width:26px;height:22px;background:#fffcfa"></div><div class="c" style="left:597px;top:565px;width:25px;height:22px;background:#ffe7df"></div><div class="c" style="left:622px;top:565px;width:26px;height:22px;background:#f7f8fa"></div><div class="c" style="left:648px;top:565px;width:26px;height:22px;background:#fffaf8"></div><div class="c" style="left:674px;top:565px;width:26px;height:22px;background:#f9f9fb"></div><div class="c" style="left:700px;top:565px;width:26px;height:22px;background:#fbfbfd"></div><div class="c" style="left:726px;top:565px;width:26px;height:22px;background:#f7f8fa"></div><div class="c" style="left:752px;top:565px;width:26px;height:22px;background:#fffdfd"></div><div class="c" style="left:778px;top:565px;width:26px;height:22px;background:#fff6f4"></div><div class="c" style="left:829px;top:565px;width:26px;height:22px;background:#f7f8fa"></div><div class="c" style="left:907px;top:565px;width:26px;height:22px;background:#eff0f5"></div><div class="c" style="left:933px;top:565px;width:26px;height:22px;background:#ffd2c5"></div><div class="c" style="left:966px;top:565px;width:26px;height:22px;background:#fffcfa"></div><div class="c" style="left:992px;top:565px;width:26px;height:22px;background:#fffcfa"></div><div class="c" style="left:1018px;top:565px;width:26px;height:22px;background:#fffcfa"></div><div class="c" style="left:1044px;top:565px;width:26px;height:22px;background:#f3f4f8"></div><div class="c" style="left:1070px;top:565px;width:26px;height:22px;background:#fff8f6"></div><div class="c" style="left:1096px;top:565px;width:25px;height:22px;background:#fffcfa"></div><div class="c" style="left:1121px;top:565px;width:26px;height:22px;background:#f1f2f6"></div><div class="c" style="left:253px;top:587px;width:26px;height:23px;background:#fff5f1"></div><div class="c" style="left:279px;top:587px;width:26px;height:23px;background:#fff5f1"></div><div class="c" style="left:305px;top:587px;width:25px;height:23px;background:#fff8f6"></div><div class="c" style="left:330px;top:587px;width:26px;height:23px;background:#fff1ed"></div><div class="c" style="left:356px;top:587px;width:26px;height:23px;background:#fff3ef"></div><div class="c" style="left:382px;top:587px;width:26px;height:23px;background:#ffeee8"></div><div class="c" style="left:408px;top:587px;width:26px;height:23px;background:#fff5f1"></div><div class="c" style="left:441px;top:587px;width:26px;height:23px;background:#fffcfa"></div><div class="c" style="left:493px;top:587px;width:26px;height:23px;background:#fbfbfd"></div><div class="c" style="left:519px;top:587px;width:26px;height:23px;background:#f9f9fb"></div><div class="c" style="left:545px;top:587px;width:26px;height:23px;background:#fffaf8"></div><div class="c" style="left:571px;top:587px;width:26px;height:23px;background:#fffaf8"></div><div class="c" style="left:597px;top:587px;width:25px;height:23px;background:#ffeee8"></div><div class="c" style="left:622px;top:587px;width:26px;height:23px;background:#f5f6f9"></div><div class="c" style="left:648px;top:587px;width:26px;height:23px;background:#fffcfa"></div><div class="c" style="left:674px;top:587px;width:26px;height:23px;background:#f9f9fb"></div><div class="c" style="left:700px;top:587px;width:26px;height:23px;background:#fffdfd"></div><div class="c" style="left:726px;top:587px;width:26px;height:23px;background:#f9f9fb"></div><div class="c" style="left:752px;top:587px;width:26px;height:23px;background:#fffcfa"></div><div class="c" style="left:778px;top:587px;width:26px;height:23px;background:#f9f9fb"></div><div class="c" style="left:855px;top:587px;width:26px;height:23px;background:#f9f9fb"></div><div class="c" style="left:881px;top:587px;width:26px;height:23px;background:#eff0f5"></div><div class="c" style="left:933px;top:587px;width:26px;height:23px;background:#ffe7df"></div><div class="c" style="left:966px;top:587px;width:26px;height:23px;background:#fdfdfe"></div><div class="c" style="left:1018px;top:587px;width:26px;height:23px;background:#fffdfd"></div><div class="c" style="left:1044px;top:587px;width:26px;height:23px;background:#fdfdfe"></div><div class="c" style="left:1070px;top:587px;width:26px;height:23px;background:#fffdfd"></div><div class="c" style="left:1121px;top:587px;width:26px;height:23px;background:#fbfbfd"></div><div class="c" style="left:253px;top:610px;width:26px;height:22px;background:#d8dae7"></div><div class="c" style="left:279px;top:610px;width:26px;height:22px;background:#d4d6e4"></div><div class="c" style="left:305px;top:610px;width:25px;height:22px;background:#dbdee9"></div><div class="c" style="left:330px;top:610px;width:26px;height:22px;background:#c8ccdd"></div><div class="c" style="left:356px;top:610px;width:26px;height:22px;background:#adb3cc"></div><div class="c" style="left:382px;top:610px;width:26px;height:22px;background:#949cbc"></div><div class="c" style="left:408px;top:610px;width:26px;height:22px;background:#c2c6d9"></div><div class="c" style="left:441px;top:610px;width:26px;height:22px;background:#fff1ed"></div><div class="c" style="left:467px;top:610px;width:26px;height:22px;background:#fff1ed"></div><div class="c" style="left:519px;top:610px;width:26px;height:22px;background:#f7f8fa"></div><div class="c" style="left:545px;top:610px;width:26px;height:22px;background:#fffaf8"></div><div class="c" style="left:571px;top:610px;width:26px;height:22px;background:#fffdfd"></div><div class="c" style="left:597px;top:610px;width:25px;height:22px;background:#949cbc"></div><div class="c" style="left:622px;top:610px;width:26px;height:22px;background:#ffe8e1"></div><div class="c" style="left:648px;top:610px;width:26px;height:22px;background:#fbfbfd"></div><div class="c" style="left:674px;top:610px;width:26px;height:22px;background:#fff5f1"></div><div class="c" style="left:700px;top:610px;width:26px;height:22px;background:#fff6f4"></div><div class="c" style="left:726px;top:610px;width:26px;height:22px;background:#ffeae4"></div><div class="c" style="left:752px;top:610px;width:26px;height:22px;background:#fffcfa"></div><div class="c" style="left:804px;top:610px;width:25px;height:22px;background:#fffdfd"></div><div class="c" style="left:829px;top:610px;width:26px;height:22px;background:#ffe8e1"></div><div class="c" style="left:855px;top:610px;width:26px;height:22px;background:#fff1ed"></div><div class="c" style="left:881px;top:610px;width:26px;height:22px;background:#ffd2c5"></div><div class="c" style="left:907px;top:610px;width:26px;height:22px;background:#ffe7df"></div><div class="c" style="left:966px;top:610px;width:26px;height:22px;background:#f3f4f8"></div><div class="c" style="left:992px;top:610px;width:26px;height:22px;background:#eff0f5"></div><div class="c" style="left:1018px;top:610px;width:26px;height:22px;background:#f3f4f8"></div><div class="c" style="left:1044px;top:610px;width:26px;height:22px;background:#ffe3db"></div><div class="c" style="left:1070px;top:610px;width:26px;height:22px;background:#e7e9f0"></div><div class="c" style="left:1096px;top:610px;width:25px;height:22px;background:#f3f4f8"></div><div class="c" style="left:1121px;top:610px;width:26px;height:22px;background:#ffe3db"></div><div class="c" style="left:253px;top:639px;width:26px;height:23px;background:#ffcec0"></div><div class="c" style="left:279px;top:639px;width:26px;height:23px;background:#ffad97"></div><div class="c" style="left:305px;top:639px;width:25px;height:23px;background:#ffb19c"></div><div class="c" style="left:330px;top:639px;width:26px;height:23px;background:#ffa78f"></div><div class="c" style="left:356px;top:639px;width:26px;height:23px;background:#ffb9a6"></div><div class="c" style="left:382px;top:639px;width:26px;height:23px;background:#d8dae7"></div><div class="c" style="left:408px;top:639px;width:26px;height:23px;background:#ffcec0"></div><div class="c" style="left:441px;top:639px;width:26px;height:23px;background:#fff1ed"></div><div class="c" style="left:467px;top:639px;width:26px;height:23px;background:#ffeae4"></div><div class="c" style="left:493px;top:639px;width:26px;height:23px;background:#fff3ef"></div><div class="c" style="left:545px;top:639px;width:26px;height:23px;background:#fffcfa"></div><div class="c" style="left:571px;top:639px;width:26px;height:23px;background:#ffefea"></div><div class="c" style="left:597px;top:639px;width:25px;height:23px;background:#ebecf3"></div><div class="c" style="left:622px;top:639px;width:26px;height:23px;background:#fff1ed"></div><div class="c" style="left:648px;top:639px;width:26px;height:23px;background:#fffdfd"></div><div class="c" style="left:674px;top:639px;width:26px;height:23px;background:#fdfdfe"></div><div class="c" style="left:700px;top:639px;width:26px;height:23px;background:#fff1ed"></div><div class="c" style="left:726px;top:639px;width:26px;height:23px;background:#fffaf8"></div><div class="c" style="left:752px;top:639px;width:26px;height:23px;background:#f9f9fb"></div><div class="c" style="left:778px;top:639px;width:26px;height:23px;background:#fff3ef"></div><div class="c" style="left:829px;top:639px;width:26px;height:23px;background:#fffcfa"></div><div class="c" style="left:855px;top:639px;width:26px;height:23px;background:#fff3ef"></div><div class="c" style="left:881px;top:639px;width:26px;height:23px;background:#fffcfa"></div><div class="c" style="left:907px;top:639px;width:26px;height:23px;background:#fdfdfe"></div><div class="c" style="left:933px;top:639px;width:26px;height:23px;background:#f3f4f8"></div><div class="c" style="left:992px;top:639px;width:26px;height:23px;background:#6e7ba5"></div><div class="c" style="left:1018px;top:639px;width:26px;height:23px;background:#babfd4"></div><div class="c" style="left:1044px;top:639px;width:26px;height:23px;background:#949cbc"></div><div class="c" style="left:1070px;top:639px;width:26px;height:23px;background:#727ea7"></div><div class="c" style="left:1096px;top:639px;width:25px;height:23px;background:#858fb3"></div><div class="c" style="left:1121px;top:639px;width:26px;height:23px;background:#8a94b7"></div><div class="c" style="left:253px;top:662px;width:26px;height:22px;background:#ffc8b8"></div><div class="c" style="left:279px;top:662px;width:26px;height:22px;background:#ffa28a"></div><div class="c" style="left:305px;top:662px;width:25px;height:22px;background:#ffa78f"></div><div class="c" style="left:330px;top:662px;width:26px;height:22px;background:#ff9c83"></div><div class="c" style="left:356px;top:662px;width:26px;height:22px;background:#ffb19c"></div><div class="c" style="left:382px;top:662px;width:26px;height:22px;background:#ced1e0"></div><div class="c" style="left:408px;top:662px;width:26px;height:22px;background:#ffc6b5"></div><div class="c" style="left:441px;top:662px;width:26px;height:22px;background:#fff3ef"></div><div class="c" style="left:467px;top:662px;width:26px;height:22px;background:#ffe8e1"></div><div class="c" style="left:493px;top:662px;width:26px;height:22px;background:#fff1ed"></div><div class="c" style="left:519px;top:662px;width:26px;height:22px;background:#f9f9fb"></div><div class="c" style="left:571px;top:662px;width:26px;height:22px;background:#ffefea"></div><div class="c" style="left:597px;top:662px;width:25px;height:22px;background:#e5e7ef"></div><div class="c" style="left:622px;top:662px;width:26px;height:22px;background:#ffeae4"></div><div class="c" style="left:648px;top:662px;width:26px;height:22px;background:#fffdfd"></div><div class="c" style="left:700px;top:662px;width:26px;height:22px;background:#fff1ed"></div><div class="c" style="left:726px;top:662px;width:26px;height:22px;background:#fffcfa"></div><div class="c" style="left:752px;top:662px;width:26px;height:22px;background:#f7f8fa"></div><div class="c" style="left:778px;top:662px;width:26px;height:22px;background:#fffdfd"></div><div class="c" style="left:804px;top:662px;width:25px;height:22px;background:#fffdfd"></div><div class="c" style="left:829px;top:662px;width:26px;height:22px;background:#fffdfd"></div><div class="c" style="left:855px;top:662px;width:26px;height:22px;background:#fff1ed"></div><div class="c" style="left:881px;top:662px;width:26px;height:22px;background:#fffcfa"></div><div class="c" style="left:933px;top:662px;width:26px;height:22px;background:#eff0f5"></div><div class="c" style="left:966px;top:662px;width:26px;height:22px;background:#6e7ba5"></div><div class="c" style="left:1018px;top:662px;width:26px;height:22px;background:#abb1cb"></div><div class="c" style="left:1044px;top:662px;width:26px;height:22px;background:#818cb1"></div><div class="c" style="left:1070px;top:662px;width:26px;height:22px;background:#596a98"></div><div class="c" style="left:1096px;top:662px;width:25px;height:22px;background:#7f8aaf"></div><div class="c" style="left:1121px;top:662px;width:26px;height:22px;background:#7b87ad"></div><div class="c" style="left:253px;top:684px;width:26px;height:22px;background:#ffe8e1"></div><div class="c" style="left:279px;top:684px;width:26px;height:22px;background:#ffcec0"></div><div class="c" style="left:305px;top:684px;width:25px;height:22px;background:#ffd0c2"></div><div class="c" style="left:330px;top:684px;width:26px;height:22px;background:#ffcec0"></div><div class="c" style="left:356px;top:684px;width:26px;height:22px;background:#ffd6ca"></div><div class="c" style="left:382px;top:684px;width:26px;height:22px;background:#e7e9f0"></div><div class="c" style="left:408px;top:684px;width:26px;height:22px;background:#ffe8e1"></div><div class="c" style="left:441px;top:684px;width:26px;height:22px;background:#fff5f1"></div><div class="c" style="left:467px;top:684px;width:26px;height:22px;background:#fff3ef"></div><div class="c" style="left:493px;top:684px;width:26px;height:22px;background:#fff8f6"></div><div class="c" style="left:545px;top:684px;width:26px;height:22px;background:#fff6f4"></div><div class="c" style="left:571px;top:684px;width:26px;height:22px;background:#fff5f1"></div><div class="c" style="left:597px;top:684px;width:25px;height:22px;background:#f3f4f8"></div><div class="c" style="left:622px;top:684px;width:26px;height:22px;background:#fff3ef"></div><div class="c" style="left:648px;top:684px;width:26px;height:22px;background:#fdfdfe"></div><div class="c" style="left:674px;top:684px;width:26px;height:22px;background:#fdfdfe"></div><div class="c" style="left:700px;top:684px;width:26px;height:22px;background:#fff3ef"></div><div class="c" style="left:726px;top:684px;width:26px;height:22px;background:#fffdfd"></div><div class="c" style="left:778px;top:684px;width:26px;height:22px;background:#f9f9fb"></div><div class="c" style="left:829px;top:684px;width:26px;height:22px;background:#fdfdfe"></div><div class="c" style="left:855px;top:684px;width:26px;height:22px;background:#fffaf8"></div><div class="c" style="left:881px;top:684px;width:26px;height:22px;background:#fffcfa"></div><div class="c" style="left:907px;top:684px;width:26px;height:22px;background:#fffdfd"></div><div class="c" style="left:933px;top:684px;width:26px;height:22px;background:#f3f4f8"></div><div class="c" style="left:966px;top:684px;width:26px;height:22px;background:#babfd4"></div><div class="c" style="left:992px;top:684px;width:26px;height:22px;background:#abb1cb"></div><div class="c" style="left:1044px;top:684px;width:26px;height:22px;background:#babfd4"></div><div class="c" style="left:1070px;top:684px;width:26px;height:22px;background:#abb1cb"></div><div class="c" style="left:1096px;top:684px;width:25px;height:22px;background:#babfd4"></div><div class="c" style="left:1121px;top:684px;width:26px;height:22px;background:#babfd4"></div><div class="c" style="left:253px;top:706px;width:26px;height:22px;background:#ffad97"></div><div class="c" style="left:279px;top:706px;width:26px;height:22px;background:#fc8b70"></div><div class="c" style="left:305px;top:706px;width:25px;height:22px;background:#fd9277"></div><div class="c" style="left:330px;top:706px;width:26px;height:22px;background:#f97e61"></div><div class="c" style="left:356px;top:706px;width:26px;height:22px;background:#fe9479"></div><div class="c" style="left:408px;top:706px;width:26px;height:22px;background:#ffad97"></div><div class="c" style="left:441px;top:706px;width:26px;height:22px;background:#f7f8fa"></div><div class="c" style="left:493px;top:706px;width:26px;height:22px;background:#fff8f6"></div><div class="c" style="left:519px;top:706px;width:26px;height:22px;background:#fdfdfe"></div><div class="c" style="left:571px;top:706px;width:26px;height:22px;background:#fffcfa"></div><div class="c" style="left:597px;top:706px;width:25px;height:22px;background:#ffeae4"></div><div class="c" style="left:622px;top:706px;width:26px;height:22px;background:#fff3ef"></div><div class="c" style="left:648px;top:706px;width:26px;height:22px;background:#fffcfa"></div><div class="c" style="left:700px;top:706px;width:26px;height:22px;background:#fff3ef"></div><div class="c" style="left:726px;top:706px;width:26px;height:22px;background:#f5f6f9"></div><div class="c" style="left:752px;top:706px;width:26px;height:22px;background:#f5f6f9"></div><div class="c" style="left:804px;top:706px;width:25px;height:22px;background:#fffcfa"></div><div class="c" style="left:829px;top:706px;width:26px;height:22px;background:#eff0f5"></div><div class="c" style="left:855px;top:706px;width:26px;height:22px;background:#fff6f4"></div><div class="c" style="left:881px;top:706px;width:26px;height:22px;background:#f3f4f8"></div><div class="c" style="left:907px;top:706px;width:26px;height:22px;background:#fdfdfe"></div><div class="c" style="left:933px;top:706px;width:26px;height:22px;background:#ffe3db"></div><div class="c" style="left:966px;top:706px;width:26px;height:22px;background:#949cbc"></div><div class="c" style="left:992px;top:706px;width:26px;height:22px;background:#818cb1"></div><div class="c" style="left:1018px;top:706px;width:26px;height:22px;background:#babfd4"></div><div class="c" style="left:1070px;top:706px;width:26px;height:22px;background:#7f8aaf"></div><div class="c" style="left:1096px;top:706px;width:25px;height:22px;background:#9aa2c0"></div><div class="c" style="left:1121px;top:706px;width:26px;height:22px;background:#596a98"></div><div class="c" style="left:253px;top:728px;width:26px;height:23px;background:#ffc8b8"></div><div class="c" style="left:279px;top:728px;width:26px;height:23px;background:#ffa088"></div><div class="c" style="left:305px;top:728px;width:25px;height:23px;background:#ffa48d"></div><div class="c" style="left:330px;top:728px;width:26px;height:23px;background:#ff9c83"></div><div class="c" style="left:356px;top:728px;width:26px;height:23px;background:#ffaf99"></div><div class="c" style="left:382px;top:728px;width:26px;height:23px;background:#cacdde"></div><div class="c" style="left:408px;top:728px;width:26px;height:23px;background:#ffcaba"></div><div class="c" style="left:441px;top:728px;width:26px;height:23px;background:#ffefea"></div><div class="c" style="left:467px;top:728px;width:26px;height:23px;background:#ffeae4"></div><div class="c" style="left:493px;top:728px;width:26px;height:23px;background:#fff5f1"></div><div class="c" style="left:519px;top:728px;width:26px;height:23px;background:#fbfbfd"></div><div class="c" style="left:571px;top:728px;width:26px;height:23px;background:#fff1ed"></div><div class="c" style="left:597px;top:728px;width:25px;height:23px;background:#e3e5ee"></div><div class="c" style="left:622px;top:728px;width:26px;height:23px;background:#ffece6"></div><div class="c" style="left:700px;top:728px;width:26px;height:23px;background:#ffefea"></div><div class="c" style="left:726px;top:728px;width:26px;height:23px;background:#fffcfa"></div><div class="c" style="left:752px;top:728px;width:26px;height:23px;background:#f5f6f9"></div><div class="c" style="left:778px;top:728px;width:26px;height:23px;background:#fffdfd"></div><div class="c" style="left:804px;top:728px;width:25px;height:23px;background:#fffdfd"></div><div class="c" style="left:829px;top:728px;width:26px;height:23px;background:#fffcfa"></div><div class="c" style="left:855px;top:728px;width:26px;height:23px;background:#fff1ed"></div><div class="c" style="left:881px;top:728px;width:26px;height:23px;background:#fff8f6"></div><div class="c" style="left:907px;top:728px;width:26px;height:23px;background:#fffdfd"></div><div class="c" style="left:933px;top:728px;width:26px;height:23px;background:#e7e9f0"></div><div class="c" style="left:966px;top:728px;width:26px;height:23px;background:#727ea7"></div><div class="c" style="left:992px;top:728px;width:26px;height:23px;background:#596a98"></div><div class="c" style="left:1018px;top:728px;width:26px;height:23px;background:#abb1cb"></div><div class="c" style="left:1044px;top:728px;width:26px;height:23px;background:#7f8aaf"></div><div class="c" style="left:1096px;top:728px;width:25px;height:23px;background:#7682aa"></div><div class="c" style="left:1121px;top:728px;width:26px;height:23px;background:#7985ac"></div><div class="c" style="left:253px;top:751px;width:26px;height:22px;background:#ffd4c7"></div><div class="c" style="left:279px;top:751px;width:26px;height:22px;background:#ffb5a1"></div><div class="c" style="left:305px;top:751px;width:25px;height:22px;background:#ffb9a6"></div><div class="c" style="left:330px;top:751px;width:26px;height:22px;background:#ffaf99"></div><div class="c" style="left:356px;top:751px;width:26px;height:22px;background:#ffc3b3"></div><div class="c" style="left:382px;top:751px;width:26px;height:22px;background:#d8dae7"></div><div class="c" style="left:408px;top:751px;width:26px;height:22px;background:#ffd2c5"></div><div class="c" style="left:441px;top:751px;width:26px;height:22px;background:#fff6f4"></div><div class="c" style="left:467px;top:751px;width:26px;height:22px;background:#ffefea"></div><div class="c" style="left:493px;top:751px;width:26px;height:22px;background:#fffaf8"></div><div class="c" style="left:519px;top:751px;width:26px;height:22px;background:#fdfdfe"></div><div class="c" style="left:545px;top:751px;width:26px;height:22px;background:#fffdfd"></div><div class="c" style="left:571px;top:751px;width:26px;height:22px;background:#fff3ef"></div><div class="c" style="left:597px;top:751px;width:25px;height:22px;background:#f3f4f8"></div><div class="c" style="left:622px;top:751px;width:26px;height:22px;background:#fff1ed"></div><div class="c" style="left:648px;top:751px;width:26px;height:22px;background:#fffdfd"></div><div class="c" style="left:700px;top:751px;width:26px;height:22px;background:#ffefea"></div><div class="c" style="left:726px;top:751px;width:26px;height:22px;background:#fffaf8"></div><div class="c" style="left:752px;top:751px;width:26px;height:22px;background:#f9f9fb"></div><div class="c" style="left:778px;top:751px;width:26px;height:22px;background:#fff6f4"></div><div class="c" style="left:804px;top:751px;width:25px;height:22px;background:#fff6f4"></div><div class="c" style="left:829px;top:751px;width:26px;height:22px;background:#fffdfd"></div><div class="c" style="left:855px;top:751px;width:26px;height:22px;background:#fff5f1"></div><div class="c" style="left:881px;top:751px;width:26px;height:22px;background:#fffcfa"></div><div class="c" style="left:933px;top:751px;width:26px;height:22px;background:#f3f4f8"></div><div class="c" style="left:966px;top:751px;width:26px;height:22px;background:#858fb3"></div><div class="c" style="left:992px;top:751px;width:26px;height:22px;background:#7f8aaf"></div><div class="c" style="left:1018px;top:751px;width:26px;height:22px;background:#babfd4"></div><div class="c" style="left:1044px;top:751px;width:26px;height:22px;background:#9aa2c0"></div><div class="c" style="left:1070px;top:751px;width:26px;height:22px;background:#7682aa"></div><div class="c" style="left:1121px;top:751px;width:26px;height:22px;background:#969ebe"></div><div class="c" style="left:253px;top:773px;width:26px;height:22px;background:#ffa28a"></div><div class="c" style="left:279px;top:773px;width:26px;height:22px;background:#f87c5f"></div><div class="c" style="left:305px;top:773px;width:25px;height:22px;background:#fa8568"></div><div class="c" style="left:330px;top:773px;width:26px;height:22px;background:#f67558"></div><div class="c" style="left:356px;top:773px;width:26px;height:22px;background:#fc8d72"></div><div class="c" style="left:408px;top:773px;width:26px;height:22px;background:#ffb19c"></div><div class="c" style="left:441px;top:773px;width:26px;height:22px;background:#f9f9fb"></div><div class="c" style="left:493px;top:773px;width:26px;height:22px;background:#fff6f4"></div><div class="c" style="left:571px;top:773px;width:26px;height:22px;background:#fffaf8"></div><div class="c" style="left:597px;top:773px;width:25px;height:22px;background:#ffeae4"></div><div class="c" style="left:622px;top:773px;width:26px;height:22px;background:#fff6f4"></div><div class="c" style="left:648px;top:773px;width:26px;height:22px;background:#fff6f4"></div><div class="c" style="left:700px;top:773px;width:26px;height:22px;background:#fff3ef"></div><div class="c" style="left:726px;top:773px;width:26px;height:22px;background:#f5f6f9"></div><div class="c" style="left:752px;top:773px;width:26px;height:22px;background:#f5f6f9"></div><div class="c" style="left:778px;top:773px;width:26px;height:22px;background:#fffdfd"></div><div class="c" style="left:804px;top:773px;width:25px;height:22px;background:#fff6f4"></div><div class="c" style="left:829px;top:773px;width:26px;height:22px;background:#ebecf3"></div><div class="c" style="left:855px;top:773px;width:26px;height:22px;background:#fffaf8"></div><div class="c" style="left:881px;top:773px;width:26px;height:22px;background:#f1f2f6"></div><div class="c" style="left:907px;top:773px;width:26px;height:22px;background:#fbfbfd"></div><div class="c" style="left:933px;top:773px;width:26px;height:22px;background:#ffe3db"></div><div class="c" style="left:966px;top:773px;width:26px;height:22px;background:#8a94b7"></div><div class="c" style="left:992px;top:773px;width:26px;height:22px;background:#7b87ad"></div><div class="c" style="left:1018px;top:773px;width:26px;height:22px;background:#babfd4"></div><div class="c" style="left:1044px;top:773px;width:26px;height:22px;background:#596a98"></div><div class="c" style="left:1070px;top:773px;width:26px;height:22px;background:#7985ac"></div><div class="c" style="left:1096px;top:773px;width:25px;height:22px;background:#969ebe"></div></div>
<div class="t yl" style="left:-54.60px;top:21.17px">TRBC2</div><div class="t yl" style="left:-54.60px;top:43.17px">CD3D</div><div class="t yl" style="left:-54.60px;top:66.17px">CD3G</div><div class="t yl" style="left:-54.60px;top:88.17px">CD3E</div><div class="t yl" style="left:-54.60px;top:110.17px">IL7R</div><div class="t yl" style="left:-54.60px;top:132.17px">LTB</div><div class="t yl" style="left:-54.60px;top:155.17px">LEF1</div><div class="t yl" style="left:-54.60px;top:184.17px">ARF5</div><div class="t yl" style="left:-54.60px;top:207.17px">M6PR</div><div class="t yl" style="left:-54.60px;top:229.17px">RALA</div><div class="t yl" style="left:-54.60px;top:251.17px">DVL2</div><div class="t yl" style="left:-54.60px;top:273.17px">TSR3</div><div class="t yl" style="left:-54.60px;top:296.17px">NDUFAB1</div><div class="t yl" style="left:-54.60px;top:318.17px">RPS20</div><div class="t yl" style="left:-54.60px;top:340.17px">RANBP9</div><div class="t yl" style="left:-54.60px;top:362.17px">SS18L2</div><div class="t yl" style="left:-54.60px;top:385.17px">PPP5C</div><div class="t yl" style="left:-54.60px;top:407.17px">VDAC3</div><div class="t yl" style="left:-54.60px;top:429.17px">RTF2</div><div class="t yl" style="left:-54.60px;top:451.17px">B4GALT7</div><div class="t yl" style="left:-54.60px;top:473.17px">GABARAPL2</div><div class="t yl" style="left:-54.60px;top:496.17px">MRPS10</div><div class="t yl" style="left:-54.60px;top:518.17px">VAMP3</div><div class="t yl" style="left:-54.60px;top:540.17px">RCN1</div><div class="t yl" style="left:-54.60px;top:562.17px">FAM168A</div><div class="t yl" style="left:-54.60px;top:585.17px">CDC27</div><div class="t yl" style="left:-54.60px;top:607.17px">RPL18</div><div class="t yl" style="left:-54.60px;top:637.17px">PAX5</div><div class="t yl" style="left:-54.60px;top:659.17px">MS4A1</div><div class="t yl" style="left:-54.60px;top:681.17px">CD19</div><div class="t yl" style="left:-54.60px;top:703.17px">CD74</div><div class="t yl" style="left:-54.60px;top:726.17px">CD79A</div><div class="t yl" style="left:-54.60px;top:748.17px">IGHD</div><div class="t yl" style="left:-54.60px;top:770.17px">HLA-DRA</div>
<div class="t xl" style="left:-23.00px;top:779.07px">TRBC2</div><div class="t xl" style="left:3.00px;top:779.07px">CD3D</div><div class="t xl" style="left:29.00px;top:779.07px">CD3G</div><div class="t xl" style="left:55.00px;top:779.07px">CD3E</div><div class="t xl" style="left:80.00px;top:779.07px">IL7R</div><div class="t xl" style="left:106.00px;top:779.07px">LTB</div><div class="t xl" style="left:132.00px;top:779.07px">LEF1</div><div class="t xl" style="left:165.00px;top:779.07px">ARF5</div><div class="t xl" style="left:191.00px;top:779.07px">M6PR</div><div class="t xl" style="left:217.00px;top:779.07px">RALA</div><div class="t xl" style="left:243.00px;top:779.07px">DVL2</div><div class="t xl" style="left:269.00px;top:779.07px">TSR3</div><div class="t xl" style="left:295.00px;top:779.07px">NDUFAB1</div><div class="t xl" style="left:321.00px;top:779.07px">RPS20</div><div class="t xl" style="left:346.00px;top:779.07px">RANBP9</div><div class="t xl" style="left:372.00px;top:779.07px">SS18L2</div><div class="t xl" style="left:398.00px;top:779.07px">PPP5C</div><div class="t xl" style="left:424.00px;top:779.07px">VDAC3</div><div class="t xl" style="left:450.00px;top:779.07px">RTF2</div><div class="t xl" style="left:476.00px;top:779.07px">B4GALT7</div><div class="t xl" style="left:502.00px;top:779.07px">GABARAPL2</div><div class="t xl" style="left:527.00px;top:779.07px">MRPS10</div><div class="t xl" style="left:553.00px;top:779.07px">VAMP3</div><div class="t xl" style="left:579.00px;top:779.07px">RCN1</div><div class="t xl" style="left:605.00px;top:779.07px">FAM168A</div><div class="t xl" style="left:631.00px;top:779.07px">CDC27</div><div class="t xl" style="left:657.00px;top:779.07px">RPL18</div><div class="t xl" style="left:690.00px;top:779.07px">PAX5</div><div class="t xl" style="left:716.00px;top:779.07px">MS4A1</div><div class="t xl" style="left:742.00px;top:779.07px">CD19</div><div class="t xl" style="left:767.00px;top:779.07px">CD74</div><div class="t xl" style="left:793.00px;top:779.07px">CD79A</div><div class="t xl" style="left:819.00px;top:779.07px">IGHD</div><div class="t xl" style="left:845.00px;top:779.07px">HLA-DRA</div>
<div class="t sl" style="left:-158.70px;top:72.95px">CD4 T cells</div><div class="t sl" style="left:-158.70px;top:380.45px">HK</div><div class="t sl" style="left:-158.70px;top:687.95px">B cells</div><div class="t st" style="left:143.50px;top:-27.65px">CD4 T cells</div><div class="t st" style="left:500.00px;top:-27.65px">HK</div><div class="t st" style="left:856.50px;top:-27.65px">B cells</div>
<div class="t" id="lt" style="left:1162.0px;top:361.77px">Monocle corr</div><svg id="bar" width="130" height="50" viewBox="0 0 130 50"><defs><linearGradient id="g" gradientUnits="userSpaceOnUse" x1="6.30" y1="0" x2="118.50" y2="0"><stop offset="0" stop-color="#dc0000"/><stop offset="0.0579" stop-color="#dc0000"/><stop offset="0.0796" stop-color="#e12511"/><stop offset="0.1012" stop-color="#e5381e"/><stop offset="0.1228" stop-color="#e9472b"/><stop offset="0.1445" stop-color="#ed5437"/><stop offset="0.1661" stop-color="#f16142"/><stop offset="0.1877" stop-color="#f46c4e"/><stop offset="0.2094" stop-color="#f7785a"/><stop offset="0.2310" stop-color="#fa8366"/><stop offset="0.2527" stop-color="#fc8d72"/><stop offset="0.2743" stop-color="#ff987e"/><stop offset="0.2959" stop-color="#ffa28a"/><stop offset="0.3176" stop-color="#ffad97"/><stop offset="0.3392" stop-color="#ffb7a3"/><stop offset="0.3608" stop-color="#ffc1b0"/><stop offset="0.3825" stop-color="#ffccbd"/><stop offset="0.4041" stop-color="#ffd6ca"/><stop offset="0.4257" stop-color="#ffe0d7"/><stop offset="0.4474" stop-color="#ffeae4"/><stop offset="0.4690" stop-color="#fff5f2"/><stop offset="0.4906" stop-color="#ffffff"/><stop offset="0.5123" stop-color="#f5f6f9"/><stop offset="0.5339" stop-color="#ebecf3"/><stop offset="0.5555" stop-color="#e1e3ed"/><stop offset="0.5772" stop-color="#d8dae7"/><stop offset="0.5988" stop-color="#ced1e0"/><stop offset="0.6205" stop-color="#c4c8da"/><stop offset="0.6421" stop-color="#babfd4"/><stop offset="0.6637" stop-color="#b1b6ce"/><stop offset="0.6854" stop-color="#a7aec8"/><stop offset="0.7070" stop-color="#9ea5c2"/><stop offset="0.7286" stop-color="#949cbc"/><stop offset="0.7503" stop-color="#8a94b7"/><stop offset="0.7719" stop-color="#818cb1"/><stop offset="0.7935" stop-color="#7783ab"/><stop offset="0.8152" stop-color="#6e7ba5"/><stop offset="0.8368" stop-color="#64739f"/><stop offset="0.8584" stop-color="#5b6b99"/><stop offset="0.8801" stop-color="#516393"/><stop offset="0.9017" stop-color="#475c8e"/><stop offset="0.9234" stop-color="#3c5488"/><stop offset="1" stop-color="#3c5488"/></linearGradient></defs><rect x="6.30" y="6.96" width="112.20" height="32.50" rx="1.2" fill="url(#g)"/><path d="M12.80 6.96v7.80M12.80 39.46v-7.80" stroke="#fff" stroke-width="1.6" fill="none"/><path d="M61.35 6.96v7.80M61.35 39.46v-7.80" stroke="#fff" stroke-width="1.6" fill="none"/><path d="M109.90 6.96v7.80M109.90 39.46v-7.80" stroke="#fff" stroke-width="1.6" fill="none"/></svg><div class="t ll" style="left:1137.80px;top:433.39px">-1</div><div class="t ll" style="left:1186.30px;top:433.39px">0</div><div class="t ll" style="left:1235.30px;top:433.39px">1</div>
</body></html>
